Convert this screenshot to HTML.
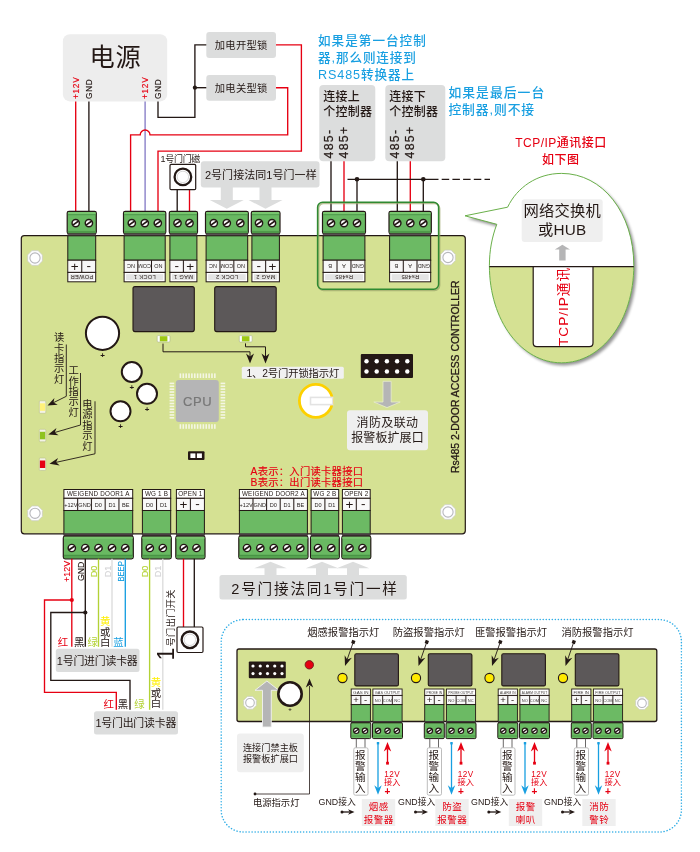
<!DOCTYPE html>
<html lang="zh"><head><meta charset="utf-8"><title>Rs485 2-DOOR ACCESS CONTROLLER</title>
<style>html,body{margin:0;padding:0;background:#fff}svg{display:block;will-change:transform}text{font-family:'Liberation Sans','Noto Sans CJK SC',sans-serif}</style>
</head><body>
<svg width="700" height="852" viewBox="0 0 700 852">
<rect width="700" height="852" fill="#fff"/>
<rect x="62.90" y="34.30" width="104.30" height="67.10" fill="#ededed" rx="7" />
<text x="115.40" y="66.30" font-size="25.2" fill="#231815" text-anchor="middle" letter-spacing="0.6" >电源</text>
<text x="75.70" y="99.00" font-size="8.3" fill="#e60012" text-anchor="start" transform="rotate(-90 75.70 99.00)" letter-spacing="0.7" dominant-baseline="central" stroke="#e60012" stroke-width="0.15">+12V</text>
<text x="88.90" y="99.00" font-size="8.3" fill="#231815" text-anchor="start" transform="rotate(-90 88.90 99.00)" letter-spacing="0.7" dominant-baseline="central" stroke="#231815" stroke-width="0.15">GND</text>
<text x="145.10" y="99.00" font-size="8.3" fill="#e60012" text-anchor="start" transform="rotate(-90 145.10 99.00)" letter-spacing="0.7" dominant-baseline="central" stroke="#e60012" stroke-width="0.15">+12V</text>
<text x="158.00" y="99.00" font-size="8.3" fill="#231815" text-anchor="start" transform="rotate(-90 158.00 99.00)" letter-spacing="0.7" dominant-baseline="central" stroke="#231815" stroke-width="0.15">GND</text>
<rect x="206.30" y="32.00" width="69.70" height="26.00" fill="#dcdddd" rx="3" />
<rect x="206.30" y="74.90" width="69.70" height="25.80" fill="#dcdddd" rx="3" />
<text x="241.20" y="48.90" font-size="10.3" fill="#231815" text-anchor="middle" letter-spacing="0.3" >加电开型锁</text>
<text x="241.20" y="91.70" font-size="10.3" fill="#231815" text-anchor="middle" letter-spacing="0.3" >加电关型锁</text>
<path d="M75.70 101.40 L75.70 211.50" fill="none" stroke="#e60012" stroke-width="1.35" />
<path d="M88.90 101.40 L88.90 211.50" fill="none" stroke="#231815" stroke-width="1.35" />
<path d="M145.10 101.40 L145.10 211.50" fill="none" stroke="#867bc6" stroke-width="1.35" />
<path d="M158.00 101.40 L158.00 117.40 L194.90 117.40 L194.90 44.90 L206.30 44.90" fill="none" stroke="#231815" stroke-width="1.35" />
<path d="M194.90 87.70 L206.30 87.70" fill="none" stroke="#231815" stroke-width="1.35" />
<circle cx="194.9" cy="87.7" r="2.1" fill="#231815"/>
<path d="M276.00 44.90 L301.40 44.90 L301.40 151.10 L158.00 151.10 L158.00 211.50" fill="none" stroke="#e60012" stroke-width="1.35" />
<path d="M276 87.7 H287.7 V134.9 H150 A4.9 4.9 0 0 0 140.2 134.9 H130.6 V211.5" fill="none" stroke="#e60012" stroke-width="1.35"/>
<text x="180.30" y="162.30" font-size="9" fill="#231815" text-anchor="middle" letter-spacing="-0.3" >1号门门磁</text>
<path d="M177.20 189.70 L177.20 211.50" fill="none" stroke="#231815" stroke-width="1.35" />
<path d="M189.50 189.70 L189.50 211.50" fill="none" stroke="#e60012" stroke-width="1.35" />
<rect x="170.00" y="164.30" width="25.70" height="25.40" fill="#fff" rx="1.2" stroke="#231815" stroke-width="1.2" />
<circle cx="182.9" cy="176.9" r="8.3" fill="#fff" stroke="#231815" stroke-width="2.3"/>
<circle cx="182.9" cy="176.9" r="5.7" fill="#fff" stroke="#c0c0c0" stroke-width="0.6"/>
<path d="M220.8 185 V200 H209.8 L226.8 208.8 L243.8 200 H232.8 V185 Z" fill="#dcdddd"/>
<path d="M259.5 185 V200 H248.5 L265.5 208.8 L282.5 200 H271.5 V185 Z" fill="#dcdddd"/>
<rect x="200.80" y="161.30" width="118.70" height="26.20" fill="#dcdddd" rx="3" />
<text x="260.80" y="179.20" font-size="11" fill="#231815" text-anchor="middle" letter-spacing="0.05" >2号门接法同1号门一样</text>
<text x="318.00" y="45.20" font-size="12.6" fill="#189fe1" text-anchor="start" letter-spacing="1.0" font-weight="500" >如果是第一台控制</text>
<text x="318.00" y="62.20" font-size="12.6" fill="#189fe1" text-anchor="start" letter-spacing="0.9" font-weight="500" >器,那么则连接到</text>
<text x="318.00" y="79.00" font-size="12.6" fill="#189fe1" text-anchor="start" letter-spacing="0.9" font-weight="500" >RS485转换器上</text>
<text x="448.40" y="96.60" font-size="12.8" fill="#189fe1" text-anchor="start" letter-spacing="1.05" font-weight="500" >如果是最后一台</text>
<text x="448.40" y="114.20" font-size="12.8" fill="#189fe1" text-anchor="start" letter-spacing="0.9" font-weight="500" >控制器,则不接</text>
<rect x="319.30" y="85.00" width="56.00" height="76.30" fill="#dcdddd" rx="4" />
<text x="323.30" y="101.40" font-size="12" fill="#231815" text-anchor="start" letter-spacing="0.2" font-weight="500" >连接上</text>
<text x="323.30" y="116.40" font-size="12" fill="#231815" text-anchor="start" letter-spacing="0.2" font-weight="500" >个控制器</text>
<text x="329.30" y="158.50" font-size="12.3" fill="#231815" text-anchor="start" transform="rotate(-90 329.30 158.50)" letter-spacing="1.3" dominant-baseline="central" stroke="#231815" stroke-width="0.25">485-</text>
<text x="343.60" y="158.50" font-size="12.3" fill="#231815" text-anchor="start" transform="rotate(-90 343.60 158.50)" letter-spacing="1.3" dominant-baseline="central" stroke="#231815" stroke-width="0.25">485+</text>
<rect x="385.30" y="85.00" width="60.00" height="76.30" fill="#dcdddd" rx="4" />
<text x="389.30" y="101.40" font-size="12" fill="#231815" text-anchor="start" letter-spacing="0.2" font-weight="500" >连接下</text>
<text x="389.30" y="116.40" font-size="12" fill="#231815" text-anchor="start" letter-spacing="0.2" font-weight="500" >个控制器</text>
<text x="395.30" y="158.50" font-size="12.3" fill="#231815" text-anchor="start" transform="rotate(-90 395.30 158.50)" letter-spacing="1.3" dominant-baseline="central" stroke="#231815" stroke-width="0.25">485-</text>
<text x="409.60" y="158.50" font-size="12.3" fill="#231815" text-anchor="start" transform="rotate(-90 409.60 158.50)" letter-spacing="1.3" dominant-baseline="central" stroke="#231815" stroke-width="0.25">485+</text>
<path d="M331.00 161.30 L331.00 211.50" fill="none" stroke="#231815" stroke-width="1.35" />
<path d="M344.00 161.30 L344.00 211.50" fill="none" stroke="#e60012" stroke-width="1.35" />
<path d="M357.00 179.30 L357.00 211.50" fill="none" stroke="#231815" stroke-width="1.35" />
<path d="M397.30 161.30 L397.30 211.50" fill="none" stroke="#231815" stroke-width="1.35" />
<path d="M410.30 161.30 L410.30 211.50" fill="none" stroke="#e60012" stroke-width="1.35" />
<path d="M423.30 179.30 L423.30 211.50" fill="none" stroke="#231815" stroke-width="1.35" />
<path d="M347.50 179.30 L431.00 179.30" fill="none" stroke="#231815" stroke-width="1.35" />
<path d="M431.00 179.30 L490.00 179.30" fill="none" stroke="#231815" stroke-width="1.2" stroke-dasharray="7.5 3.2"/>
<circle cx="357" cy="179.3" r="2.3" fill="#231815"/>
<circle cx="423.3" cy="179.3" r="2.3" fill="#231815"/>
<text x="561.00" y="147.40" font-size="12" fill="#e60012" text-anchor="middle" letter-spacing="0.5" font-weight="500" >TCP/IP通讯接口</text>
<text x="560.80" y="164.00" font-size="12" fill="#e60012" text-anchor="middle" letter-spacing="0.5" font-weight="500" >如下图</text>
<rect x="21.30" y="235.60" width="444.00" height="298.20" fill="#d5e193" rx="3" stroke="#231815" stroke-width="1.2" />
<polygon points="42.39,261.06 38.06,265.39 31.94,265.39 27.61,261.06 27.61,254.94 31.94,250.61 38.06,250.61 42.39,254.94" fill="#fdfdff" stroke="#c9ccc0" stroke-width="0.7" stroke-linejoin="round"/>
<circle cx="35" cy="258" r="5.1" fill="#fff" stroke="#b7b7bc" stroke-width="1.1"/>
<polygon points="455.39,260.56 451.06,264.89 444.94,264.89 440.61,260.56 440.61,254.44 444.94,250.11 451.06,250.11 455.39,254.44" fill="#fdfdff" stroke="#c9ccc0" stroke-width="0.7" stroke-linejoin="round"/>
<circle cx="448" cy="257.5" r="5.1" fill="#fff" stroke="#b7b7bc" stroke-width="1.1"/>
<polygon points="42.39,516.36 38.06,520.69 31.94,520.69 27.61,516.36 27.61,510.24 31.94,505.91 38.06,505.91 42.39,510.24" fill="#fdfdff" stroke="#c9ccc0" stroke-width="0.7" stroke-linejoin="round"/>
<circle cx="35" cy="513.3" r="5.1" fill="#fff" stroke="#b7b7bc" stroke-width="1.1"/>
<polygon points="455.39,515.06 451.06,519.39 444.94,519.39 440.61,515.06 440.61,508.94 444.94,504.61 451.06,504.61 455.39,508.94" fill="#fdfdff" stroke="#c9ccc0" stroke-width="0.7" stroke-linejoin="round"/>
<circle cx="448" cy="512" r="5.1" fill="#fff" stroke="#b7b7bc" stroke-width="1.1"/>
<rect x="318.6" y="203.4" width="121" height="87" rx="5" fill="none" stroke="#9aa56a" stroke-width="1.6" opacity="0.7"/>
<rect x="317.6" y="202.2" width="121" height="87" rx="5" fill="none" stroke="#2f8a32" stroke-width="1.5"/>
<rect x="67.20" y="211.30" width="29.10" height="22.60" fill="#69b962" rx="1.8" stroke="#231815" stroke-width="1.2" />
<rect x="67.80" y="211.90" width="27.90" height="2.40" fill="#79c66f" rx="1" />
<path d="M67.80 214.7 H95.70" stroke="#4a9647" stroke-width="0.9"/>
<rect x="67.80" y="230.90" width="27.90" height="2.20" fill="#4f9a4a" />
<rect x="67.50" y="233.60" width="28.50" height="2.40" fill="#5a4f54" />
<circle cx="75.70" cy="223.10" r="3.65" fill="#fff" stroke="#231815" stroke-width="1.45"/>
<path d="M72.78 225.14 L78.62 221.06" stroke="#231815" stroke-width="1.7"/>
<circle cx="88.90" cy="223.10" r="3.65" fill="#fff" stroke="#231815" stroke-width="1.45"/>
<path d="M85.98 225.14 L91.82 221.06" stroke="#231815" stroke-width="1.7"/>
<rect x="67.80" y="235.80" width="27.90" height="24.40" fill="#6cba64" stroke="#231815" stroke-width="1" />
<rect x="67.80" y="260.20" width="27.90" height="12.20" fill="#efefef" stroke="#231815" stroke-width="1" />
<rect x="68.70" y="261.10" width="12.15" height="10.40" fill="#f7f7f7" />
<text x="74.77" y="270.90" font-size="13.5" fill="#231815" text-anchor="middle" >+</text>
<rect x="82.65" y="261.10" width="12.15" height="10.40" fill="#f7f7f7" />
<path d="M81.75 260.2 V272.4" stroke="#231815" stroke-width="1"/>
<text x="88.72" y="270.00" font-size="13.5" fill="#231815" text-anchor="middle" >-</text>
<rect x="67.80" y="272.40" width="27.90" height="9.40" fill="#fff" stroke="#231815" stroke-width="1" />
<rect x="69.80" y="274.20" width="23.90" height="5.80" fill="#e4e4e4" />
<text x="81.75" y="277.10" font-size="5.7" fill="#231815" text-anchor="middle" transform="rotate(180 81.75 277.10)" letter-spacing="0.3" dominant-baseline="central">POWER</text>
<rect x="123.50" y="211.30" width="42.30" height="22.60" fill="#69b962" rx="1.8" stroke="#231815" stroke-width="1.2" />
<rect x="124.10" y="211.90" width="41.10" height="2.40" fill="#79c66f" rx="1" />
<path d="M124.10 214.7 H165.20" stroke="#4a9647" stroke-width="0.9"/>
<rect x="124.10" y="230.90" width="41.10" height="2.20" fill="#4f9a4a" />
<rect x="123.80" y="233.60" width="41.70" height="2.40" fill="#5a4f54" />
<circle cx="131.80" cy="223.10" r="3.65" fill="#fff" stroke="#231815" stroke-width="1.45"/>
<path d="M128.88 225.14 L134.72 221.06" stroke="#231815" stroke-width="1.7"/>
<circle cx="144.80" cy="223.10" r="3.65" fill="#fff" stroke="#231815" stroke-width="1.45"/>
<path d="M141.88 225.14 L147.72 221.06" stroke="#231815" stroke-width="1.7"/>
<circle cx="157.80" cy="223.10" r="3.65" fill="#fff" stroke="#231815" stroke-width="1.45"/>
<path d="M154.88 225.14 L160.72 221.06" stroke="#231815" stroke-width="1.7"/>
<rect x="124.10" y="235.80" width="41.10" height="24.40" fill="#6cba64" stroke="#231815" stroke-width="1" />
<rect x="124.10" y="260.20" width="41.10" height="12.20" fill="#efefef" stroke="#231815" stroke-width="1" />
<rect x="125.00" y="261.10" width="11.90" height="10.40" fill="#f7f7f7" />
<text x="130.95" y="266.30" font-size="5.5" fill="#2b2523" text-anchor="middle" transform="rotate(180 130.95 266.30)" dominant-baseline="central">NC</text>
<rect x="138.70" y="261.10" width="11.90" height="10.40" fill="#f7f7f7" />
<path d="M137.80 260.2 V272.4" stroke="#231815" stroke-width="1"/>
<text x="144.65" y="266.30" font-size="5.5" fill="#2b2523" text-anchor="middle" transform="rotate(180 144.65 266.30)" dominant-baseline="central">COM</text>
<rect x="152.40" y="261.10" width="11.90" height="10.40" fill="#f7f7f7" />
<path d="M151.50 260.2 V272.4" stroke="#231815" stroke-width="1"/>
<text x="158.35" y="266.30" font-size="5.5" fill="#2b2523" text-anchor="middle" transform="rotate(180 158.35 266.30)" dominant-baseline="central">NO</text>
<rect x="124.10" y="272.40" width="41.10" height="9.40" fill="#fff" stroke="#231815" stroke-width="1" />
<rect x="126.10" y="274.20" width="37.10" height="5.80" fill="#e4e4e4" />
<text x="144.65" y="277.10" font-size="5.7" fill="#231815" text-anchor="middle" transform="rotate(180 144.65 277.10)" letter-spacing="0.3" dominant-baseline="central">LOCK 1</text>
<rect x="169.30" y="211.30" width="28.20" height="22.60" fill="#69b962" rx="1.8" stroke="#231815" stroke-width="1.2" />
<rect x="169.90" y="211.90" width="27.00" height="2.40" fill="#79c66f" rx="1" />
<path d="M169.90 214.7 H196.90" stroke="#4a9647" stroke-width="0.9"/>
<rect x="169.90" y="230.90" width="27.00" height="2.20" fill="#4f9a4a" />
<rect x="169.60" y="233.60" width="27.60" height="2.40" fill="#5a4f54" />
<circle cx="177.50" cy="223.10" r="3.65" fill="#fff" stroke="#231815" stroke-width="1.45"/>
<path d="M174.58 225.14 L180.42 221.06" stroke="#231815" stroke-width="1.7"/>
<circle cx="189.50" cy="223.10" r="3.65" fill="#fff" stroke="#231815" stroke-width="1.45"/>
<path d="M186.58 225.14 L192.42 221.06" stroke="#231815" stroke-width="1.7"/>
<rect x="169.90" y="235.80" width="27.00" height="24.40" fill="#6cba64" stroke="#231815" stroke-width="1" />
<rect x="169.90" y="260.20" width="27.00" height="12.20" fill="#efefef" stroke="#231815" stroke-width="1" />
<rect x="170.80" y="261.10" width="11.70" height="10.40" fill="#f7f7f7" />
<text x="176.65" y="270.00" font-size="13.5" fill="#231815" text-anchor="middle" >-</text>
<rect x="184.30" y="261.10" width="11.70" height="10.40" fill="#f7f7f7" />
<path d="M183.40 260.2 V272.4" stroke="#231815" stroke-width="1"/>
<text x="190.15" y="270.90" font-size="13.5" fill="#231815" text-anchor="middle" >+</text>
<rect x="169.90" y="272.40" width="27.00" height="9.40" fill="#fff" stroke="#231815" stroke-width="1" />
<rect x="171.90" y="274.20" width="23.00" height="5.80" fill="#e4e4e4" />
<text x="183.40" y="277.10" font-size="5.7" fill="#231815" text-anchor="middle" transform="rotate(180 183.40 277.10)" letter-spacing="0.3" dominant-baseline="central">MAG 1</text>
<rect x="205.50" y="211.30" width="42.80" height="22.60" fill="#69b962" rx="1.8" stroke="#231815" stroke-width="1.2" />
<rect x="206.10" y="211.90" width="41.60" height="2.40" fill="#79c66f" rx="1" />
<path d="M206.10 214.7 H247.70" stroke="#4a9647" stroke-width="0.9"/>
<rect x="206.10" y="230.90" width="41.60" height="2.20" fill="#4f9a4a" />
<rect x="205.80" y="233.60" width="42.20" height="2.40" fill="#5a4f54" />
<circle cx="213.80" cy="223.10" r="3.65" fill="#fff" stroke="#231815" stroke-width="1.45"/>
<path d="M210.88 225.14 L216.72 221.06" stroke="#231815" stroke-width="1.7"/>
<circle cx="226.80" cy="223.10" r="3.65" fill="#fff" stroke="#231815" stroke-width="1.45"/>
<path d="M223.88 225.14 L229.72 221.06" stroke="#231815" stroke-width="1.7"/>
<circle cx="240.30" cy="223.10" r="3.65" fill="#fff" stroke="#231815" stroke-width="1.45"/>
<path d="M237.38 225.14 L243.22 221.06" stroke="#231815" stroke-width="1.7"/>
<rect x="206.10" y="235.80" width="41.60" height="24.40" fill="#6cba64" stroke="#231815" stroke-width="1" />
<rect x="206.10" y="260.20" width="41.60" height="12.20" fill="#efefef" stroke="#231815" stroke-width="1" />
<rect x="207.00" y="261.10" width="12.07" height="10.40" fill="#f7f7f7" />
<text x="213.03" y="266.30" font-size="5.5" fill="#2b2523" text-anchor="middle" transform="rotate(180 213.03 266.30)" dominant-baseline="central">NC</text>
<rect x="220.87" y="261.10" width="12.07" height="10.40" fill="#f7f7f7" />
<path d="M219.97 260.2 V272.4" stroke="#231815" stroke-width="1"/>
<text x="226.90" y="266.30" font-size="5.5" fill="#2b2523" text-anchor="middle" transform="rotate(180 226.90 266.30)" dominant-baseline="central">COM</text>
<rect x="234.73" y="261.10" width="12.07" height="10.40" fill="#f7f7f7" />
<path d="M233.83 260.2 V272.4" stroke="#231815" stroke-width="1"/>
<text x="240.77" y="266.30" font-size="5.5" fill="#2b2523" text-anchor="middle" transform="rotate(180 240.77 266.30)" dominant-baseline="central">NO</text>
<rect x="206.10" y="272.40" width="41.60" height="9.40" fill="#fff" stroke="#231815" stroke-width="1" />
<rect x="208.10" y="274.20" width="37.60" height="5.80" fill="#e4e4e4" />
<text x="226.90" y="277.10" font-size="5.7" fill="#231815" text-anchor="middle" transform="rotate(180 226.90 277.10)" letter-spacing="0.3" dominant-baseline="central">LOCK 2</text>
<rect x="251.30" y="211.30" width="28.70" height="22.60" fill="#69b962" rx="1.8" stroke="#231815" stroke-width="1.2" />
<rect x="251.90" y="211.90" width="27.50" height="2.40" fill="#79c66f" rx="1" />
<path d="M251.90 214.7 H279.40" stroke="#4a9647" stroke-width="0.9"/>
<rect x="251.90" y="230.90" width="27.50" height="2.20" fill="#4f9a4a" />
<rect x="251.60" y="233.60" width="28.10" height="2.40" fill="#5a4f54" />
<circle cx="259.00" cy="223.10" r="3.65" fill="#fff" stroke="#231815" stroke-width="1.45"/>
<path d="M256.08 225.14 L261.92 221.06" stroke="#231815" stroke-width="1.7"/>
<circle cx="272.00" cy="223.10" r="3.65" fill="#fff" stroke="#231815" stroke-width="1.45"/>
<path d="M269.08 225.14 L274.92 221.06" stroke="#231815" stroke-width="1.7"/>
<rect x="251.90" y="235.80" width="27.50" height="24.40" fill="#6cba64" stroke="#231815" stroke-width="1" />
<rect x="251.90" y="260.20" width="27.50" height="12.20" fill="#efefef" stroke="#231815" stroke-width="1" />
<rect x="252.80" y="261.10" width="11.95" height="10.40" fill="#f7f7f7" />
<text x="258.77" y="270.00" font-size="13.5" fill="#231815" text-anchor="middle" >-</text>
<rect x="266.55" y="261.10" width="11.95" height="10.40" fill="#f7f7f7" />
<path d="M265.65 260.2 V272.4" stroke="#231815" stroke-width="1"/>
<text x="272.52" y="270.90" font-size="13.5" fill="#231815" text-anchor="middle" >+</text>
<rect x="251.90" y="272.40" width="27.50" height="9.40" fill="#fff" stroke="#231815" stroke-width="1" />
<rect x="253.90" y="274.20" width="23.50" height="5.80" fill="#e4e4e4" />
<text x="265.65" y="277.10" font-size="5.7" fill="#231815" text-anchor="middle" transform="rotate(180 265.65 277.10)" letter-spacing="0.3" dominant-baseline="central">MAG 2</text>
<rect x="322.50" y="211.30" width="43.00" height="22.60" fill="#69b962" rx="1.8" stroke="#231815" stroke-width="1.2" />
<rect x="323.10" y="211.90" width="41.80" height="2.40" fill="#79c66f" rx="1" />
<path d="M323.10 214.7 H364.90" stroke="#4a9647" stroke-width="0.9"/>
<rect x="323.10" y="230.90" width="41.80" height="2.20" fill="#4f9a4a" />
<rect x="322.80" y="233.60" width="42.40" height="2.40" fill="#5a4f54" />
<circle cx="331.00" cy="223.10" r="3.65" fill="#fff" stroke="#231815" stroke-width="1.45"/>
<path d="M328.08 225.14 L333.92 221.06" stroke="#231815" stroke-width="1.7"/>
<circle cx="344.00" cy="223.10" r="3.65" fill="#fff" stroke="#231815" stroke-width="1.45"/>
<path d="M341.08 225.14 L346.92 221.06" stroke="#231815" stroke-width="1.7"/>
<circle cx="357.00" cy="223.10" r="3.65" fill="#fff" stroke="#231815" stroke-width="1.45"/>
<path d="M354.08 225.14 L359.92 221.06" stroke="#231815" stroke-width="1.7"/>
<rect x="323.10" y="235.80" width="41.80" height="24.40" fill="#6cba64" stroke="#231815" stroke-width="1" />
<rect x="323.10" y="260.20" width="41.80" height="12.20" fill="#efefef" stroke="#231815" stroke-width="1" />
<rect x="324.00" y="261.10" width="12.13" height="10.40" fill="#f7f7f7" />
<text x="330.07" y="266.30" font-size="5.5" fill="#2b2523" text-anchor="middle" transform="rotate(180 330.07 266.30)" dominant-baseline="central">B</text>
<rect x="337.93" y="261.10" width="12.13" height="10.40" fill="#f7f7f7" />
<path d="M337.03 260.2 V272.4" stroke="#231815" stroke-width="1"/>
<text x="344.00" y="266.30" font-size="5.5" fill="#2b2523" text-anchor="middle" transform="rotate(180 344.00 266.30)" dominant-baseline="central">A</text>
<rect x="351.87" y="261.10" width="12.13" height="10.40" fill="#f7f7f7" />
<path d="M350.97 260.2 V272.4" stroke="#231815" stroke-width="1"/>
<text x="357.93" y="266.30" font-size="5.5" fill="#2b2523" text-anchor="middle" transform="rotate(180 357.93 266.30)" dominant-baseline="central">GND</text>
<rect x="323.10" y="272.40" width="41.80" height="9.40" fill="#fff" stroke="#231815" stroke-width="1" />
<rect x="325.10" y="274.20" width="37.80" height="5.80" fill="#e4e4e4" />
<text x="344.00" y="277.10" font-size="5.7" fill="#231815" text-anchor="middle" transform="rotate(180 344.00 277.10)" letter-spacing="0.3" dominant-baseline="central">Rs485</text>
<rect x="389.00" y="211.30" width="42.30" height="22.60" fill="#69b962" rx="1.8" stroke="#231815" stroke-width="1.2" />
<rect x="389.60" y="211.90" width="41.10" height="2.40" fill="#79c66f" rx="1" />
<path d="M389.60 214.7 H430.70" stroke="#4a9647" stroke-width="0.9"/>
<rect x="389.60" y="230.90" width="41.10" height="2.20" fill="#4f9a4a" />
<rect x="389.30" y="233.60" width="41.70" height="2.40" fill="#5a4f54" />
<circle cx="397.30" cy="223.10" r="3.65" fill="#fff" stroke="#231815" stroke-width="1.45"/>
<path d="M394.38 225.14 L400.22 221.06" stroke="#231815" stroke-width="1.7"/>
<circle cx="410.30" cy="223.10" r="3.65" fill="#fff" stroke="#231815" stroke-width="1.45"/>
<path d="M407.38 225.14 L413.22 221.06" stroke="#231815" stroke-width="1.7"/>
<circle cx="423.30" cy="223.10" r="3.65" fill="#fff" stroke="#231815" stroke-width="1.45"/>
<path d="M420.38 225.14 L426.22 221.06" stroke="#231815" stroke-width="1.7"/>
<rect x="389.60" y="235.80" width="41.10" height="24.40" fill="#6cba64" stroke="#231815" stroke-width="1" />
<rect x="389.60" y="260.20" width="41.10" height="12.20" fill="#efefef" stroke="#231815" stroke-width="1" />
<rect x="390.50" y="261.10" width="11.90" height="10.40" fill="#f7f7f7" />
<text x="396.45" y="266.30" font-size="5.5" fill="#2b2523" text-anchor="middle" transform="rotate(180 396.45 266.30)" dominant-baseline="central">B</text>
<rect x="404.20" y="261.10" width="11.90" height="10.40" fill="#f7f7f7" />
<path d="M403.30 260.2 V272.4" stroke="#231815" stroke-width="1"/>
<text x="410.15" y="266.30" font-size="5.5" fill="#2b2523" text-anchor="middle" transform="rotate(180 410.15 266.30)" dominant-baseline="central">A</text>
<rect x="417.90" y="261.10" width="11.90" height="10.40" fill="#f7f7f7" />
<path d="M417.00 260.2 V272.4" stroke="#231815" stroke-width="1"/>
<text x="423.85" y="266.30" font-size="5.5" fill="#2b2523" text-anchor="middle" transform="rotate(180 423.85 266.30)" dominant-baseline="central">GND</text>
<rect x="389.60" y="272.40" width="41.10" height="9.40" fill="#fff" stroke="#231815" stroke-width="1" />
<rect x="391.60" y="274.20" width="37.10" height="5.80" fill="#e4e4e4" />
<text x="410.15" y="277.10" font-size="5.7" fill="#231815" text-anchor="middle" transform="rotate(180 410.15 277.10)" letter-spacing="0.3" dominant-baseline="central">Rs485</text>
<rect x="133.00" y="286.60" width="61.30" height="45.00" fill="#5c5859" rx="2" stroke="#231815" stroke-width="1.1" />
<rect x="214.70" y="286.60" width="61.50" height="45.00" fill="#5c5859" rx="2" stroke="#231815" stroke-width="1.1" />
<rect x="157.20" y="335.60" width="12.80" height="6.40" fill="#fff" rx="1" stroke="#a9b48a" stroke-width="0.6" />
<rect x="159.80" y="336.20" width="7.60" height="5.20" fill="#9dc814" />
<rect x="239.30" y="335.60" width="12.80" height="6.40" fill="#fff" rx="1" stroke="#a9b48a" stroke-width="0.6" />
<rect x="241.90" y="336.20" width="7.60" height="5.20" fill="#9dc814" />
<path d="M163.00 343.60 L163.00 351.80 L250.00 351.80 L250.00 358.00" fill="none" stroke="#231815" stroke-width="1" />
<path d="M245.50 343.40 L245.50 346.80 L265.50 346.80 L265.50 358.00" fill="none" stroke="#231815" stroke-width="1" />
<path d="M0 0 L-10 -4.0 L-7.0 0 L-10 4.0 Z" fill="#231815" transform="translate(250.00 363.60) rotate(90)"/>
<path d="M0 0 L-10 -4.0 L-7.0 0 L-10 4.0 Z" fill="#231815" transform="translate(265.50 363.60) rotate(90)"/>
<rect x="241.80" y="366.80" width="102.00" height="12.00" fill="#f1f1f1" rx="1.5" />
<text x="292.80" y="377.00" font-size="10.3" fill="#231815" text-anchor="middle" letter-spacing="-0.1" >1、2号门开锁指示灯</text>
<circle cx="102.5" cy="333.3" r="16.6" fill="#fff" stroke="#231815" stroke-width="2"/>
<text x="102.50" y="357.90" font-size="8" fill="#231815" text-anchor="middle" font-weight="bold" >+</text>
<circle cx="131.8" cy="372" r="10" fill="#fff" stroke="#231815" stroke-width="2"/>
<text x="131.80" y="390.00" font-size="8" fill="#231815" text-anchor="middle" font-weight="bold" >+</text>
<circle cx="147" cy="393.8" r="10" fill="#fff" stroke="#231815" stroke-width="2"/>
<text x="147.00" y="411.80" font-size="8" fill="#231815" text-anchor="middle" font-weight="bold" >+</text>
<circle cx="120.5" cy="411.3" r="10" fill="#fff" stroke="#231815" stroke-width="2"/>
<text x="120.50" y="429.30" font-size="8" fill="#231815" text-anchor="middle" font-weight="bold" >+</text>
<text x="58.20" y="332.14" font-size="10.3" fill="#231815" letter-spacing="0.10" style="writing-mode:vertical-rl;text-orientation:upright">读卡指示灯</text>
<text x="72.70" y="365.14" font-size="10.3" fill="#231815" letter-spacing="0.10" style="writing-mode:vertical-rl;text-orientation:upright">工作指示灯</text>
<text x="86.40" y="398.94" font-size="10.3" fill="#231815" letter-spacing="0.10" style="writing-mode:vertical-rl;text-orientation:upright">电源指示灯</text>
<path d="M66.30 344.50 L66.30 396.30 L52.00 403.40" fill="none" stroke="#231815" stroke-width="0.9" />
<path d="M80.50 373.00 L80.50 425.00 L53.00 433.00" fill="none" stroke="#231815" stroke-width="0.9" />
<path d="M95.00 401.30 L95.00 453.80 L54.00 462.80" fill="none" stroke="#231815" stroke-width="0.9" />
<path d="M0 0 L-9.6 -3.8 L-6.72 0 L-9.6 3.8 Z" fill="#231815" transform="translate(47.50 405.60) rotate(153.5)"/>
<path d="M0 0 L-9.6 -3.8 L-6.72 0 L-9.6 3.8 Z" fill="#231815" transform="translate(48.30 434.40) rotate(163.8)"/>
<path d="M0 0 L-9.6 -3.8 L-6.72 0 L-9.6 3.8 Z" fill="#231815" transform="translate(49.50 463.80) rotate(167.6)"/>
<rect x="39.30" y="400.80" width="6.50" height="12.50" fill="#f3f3e6" rx="1" stroke="#b9c08c" stroke-width="0.6" />
<rect x="39.90" y="403.30" width="5.30" height="7.50" fill="#fff27a" />
<rect x="39.30" y="429.30" width="6.50" height="12.50" fill="#f3f3e6" rx="1" stroke="#b9c08c" stroke-width="0.6" />
<rect x="39.90" y="431.80" width="5.30" height="7.50" fill="#8fc31f" />
<rect x="39.30" y="458.00" width="6.50" height="12.50" fill="#f3f3e6" rx="1" stroke="#b9c08c" stroke-width="0.6" />
<rect x="39.90" y="460.50" width="5.30" height="7.50" fill="#e60012" />
<rect x="179.60" y="373.40" width="1.60" height="4.60" fill="#f4f6e4" />
<rect x="179.60" y="424.20" width="1.60" height="4.60" fill="#f4f6e4" />
<rect x="169.60" y="382.60" width="4.60" height="1.60" fill="#f4f6e4" />
<rect x="220.60" y="382.60" width="4.60" height="1.60" fill="#f4f6e4" />
<rect x="182.47" y="373.40" width="1.60" height="4.60" fill="#f4f6e4" />
<rect x="182.47" y="424.20" width="1.60" height="4.60" fill="#f4f6e4" />
<rect x="169.60" y="385.47" width="4.60" height="1.60" fill="#f4f6e4" />
<rect x="220.60" y="385.47" width="4.60" height="1.60" fill="#f4f6e4" />
<rect x="185.34" y="373.40" width="1.60" height="4.60" fill="#f4f6e4" />
<rect x="185.34" y="424.20" width="1.60" height="4.60" fill="#f4f6e4" />
<rect x="169.60" y="388.34" width="4.60" height="1.60" fill="#f4f6e4" />
<rect x="220.60" y="388.34" width="4.60" height="1.60" fill="#f4f6e4" />
<rect x="188.21" y="373.40" width="1.60" height="4.60" fill="#f4f6e4" />
<rect x="188.21" y="424.20" width="1.60" height="4.60" fill="#f4f6e4" />
<rect x="169.60" y="391.21" width="4.60" height="1.60" fill="#f4f6e4" />
<rect x="220.60" y="391.21" width="4.60" height="1.60" fill="#f4f6e4" />
<rect x="191.08" y="373.40" width="1.60" height="4.60" fill="#f4f6e4" />
<rect x="191.08" y="424.20" width="1.60" height="4.60" fill="#f4f6e4" />
<rect x="169.60" y="394.08" width="4.60" height="1.60" fill="#f4f6e4" />
<rect x="220.60" y="394.08" width="4.60" height="1.60" fill="#f4f6e4" />
<rect x="193.95" y="373.40" width="1.60" height="4.60" fill="#f4f6e4" />
<rect x="193.95" y="424.20" width="1.60" height="4.60" fill="#f4f6e4" />
<rect x="169.60" y="396.95" width="4.60" height="1.60" fill="#f4f6e4" />
<rect x="220.60" y="396.95" width="4.60" height="1.60" fill="#f4f6e4" />
<rect x="196.82" y="373.40" width="1.60" height="4.60" fill="#f4f6e4" />
<rect x="196.82" y="424.20" width="1.60" height="4.60" fill="#f4f6e4" />
<rect x="169.60" y="399.82" width="4.60" height="1.60" fill="#f4f6e4" />
<rect x="220.60" y="399.82" width="4.60" height="1.60" fill="#f4f6e4" />
<rect x="199.69" y="373.40" width="1.60" height="4.60" fill="#f4f6e4" />
<rect x="199.69" y="424.20" width="1.60" height="4.60" fill="#f4f6e4" />
<rect x="169.60" y="402.69" width="4.60" height="1.60" fill="#f4f6e4" />
<rect x="220.60" y="402.69" width="4.60" height="1.60" fill="#f4f6e4" />
<rect x="202.56" y="373.40" width="1.60" height="4.60" fill="#f4f6e4" />
<rect x="202.56" y="424.20" width="1.60" height="4.60" fill="#f4f6e4" />
<rect x="169.60" y="405.56" width="4.60" height="1.60" fill="#f4f6e4" />
<rect x="220.60" y="405.56" width="4.60" height="1.60" fill="#f4f6e4" />
<rect x="205.43" y="373.40" width="1.60" height="4.60" fill="#f4f6e4" />
<rect x="205.43" y="424.20" width="1.60" height="4.60" fill="#f4f6e4" />
<rect x="169.60" y="408.43" width="4.60" height="1.60" fill="#f4f6e4" />
<rect x="220.60" y="408.43" width="4.60" height="1.60" fill="#f4f6e4" />
<rect x="208.30" y="373.40" width="1.60" height="4.60" fill="#f4f6e4" />
<rect x="208.30" y="424.20" width="1.60" height="4.60" fill="#f4f6e4" />
<rect x="169.60" y="411.30" width="4.60" height="1.60" fill="#f4f6e4" />
<rect x="220.60" y="411.30" width="4.60" height="1.60" fill="#f4f6e4" />
<rect x="211.17" y="373.40" width="1.60" height="4.60" fill="#f4f6e4" />
<rect x="211.17" y="424.20" width="1.60" height="4.60" fill="#f4f6e4" />
<rect x="169.60" y="414.17" width="4.60" height="1.60" fill="#f4f6e4" />
<rect x="220.60" y="414.17" width="4.60" height="1.60" fill="#f4f6e4" />
<rect x="214.04" y="373.40" width="1.60" height="4.60" fill="#f4f6e4" />
<rect x="214.04" y="424.20" width="1.60" height="4.60" fill="#f4f6e4" />
<rect x="169.60" y="417.04" width="4.60" height="1.60" fill="#f4f6e4" />
<rect x="220.60" y="417.04" width="4.60" height="1.60" fill="#f4f6e4" />
<rect x="175.80" y="380.00" width="43.00" height="42.00" fill="#b5b5b6" rx="3" />
<text x="197.70" y="405.80" font-size="13" fill="#777" text-anchor="middle" letter-spacing="0.6" stroke="#777" stroke-width="0.2">CPU</text>
<rect x="188.00" y="451.30" width="16.50" height="8.80" fill="#231815" rx="1" />
<rect x="190.40" y="453.40" width="5.00" height="4.60" fill="#fff" />
<rect x="196.90" y="453.40" width="5.00" height="4.60" fill="#fff" />
<circle cx="315.9" cy="400.8" r="16.5" fill="#fff" stroke="#fdd000" stroke-width="2.8"/>
<rect x="310.50" y="397.40" width="22.20" height="7.20" fill="#fff" stroke="#e3e3e3" stroke-width="1.6" />
<rect x="360.80" y="354.00" width="52.20" height="24.00" fill="#231815" rx="1" />
<circle cx="366.5" cy="361.3" r="2.2" fill="#fff"/>
<circle cx="366.5" cy="371.5" r="2.2" fill="#fff"/>
<circle cx="376.7" cy="361.3" r="2.2" fill="#fff"/>
<circle cx="376.7" cy="371.5" r="2.2" fill="#fff"/>
<circle cx="386.9" cy="361.3" r="2.2" fill="#fff"/>
<circle cx="386.9" cy="371.5" r="2.2" fill="#fff"/>
<circle cx="397.1" cy="361.3" r="2.2" fill="#fff"/>
<circle cx="397.1" cy="371.5" r="2.2" fill="#fff"/>
<circle cx="407.3" cy="361.3" r="2.2" fill="#fff"/>
<circle cx="407.3" cy="371.5" r="2.2" fill="#fff"/>
<path d="M383 381.3 V402 H373.8 L387 407.6 L400.2 402 H391.2 V381.3 Z" fill="#b5b5b6" stroke="#e9eecb" stroke-width="0.8"/>
<rect x="347.00" y="410.30" width="81.00" height="40.00" fill="#efefef" rx="3" />
<text x="387.50" y="427.30" font-size="12" fill="#231815" text-anchor="middle" letter-spacing="0.4" >消防及联动</text>
<text x="387.50" y="441.80" font-size="12" fill="#231815" text-anchor="middle" letter-spacing="0.1" >报警板扩展口</text>
<text x="455.40" y="473.00" font-size="10.8" fill="#231815" text-anchor="start" transform="rotate(-90 455.40 473.00)" dominant-baseline="central" textLength="192.5" lengthAdjust="spacingAndGlyphs" stroke="#231815" stroke-width="0.3">Rs485 2-DOOR ACCESS CONTROLLER</text>
<text x="250.50" y="474.60" font-size="10.3" fill="#e60012" text-anchor="start" letter-spacing="0.27" stroke="#e60012" stroke-width="0.15">A表示：入门读卡器接口</text>
<text x="250.50" y="485.80" font-size="10.3" fill="#e60012" text-anchor="start" letter-spacing="0.27" stroke="#e60012" stroke-width="0.15">B表示：出门读卡器接口</text>
<rect x="63.90" y="489.50" width="68.80" height="8.80" fill="#fff" stroke="#231815" stroke-width="1" />
<text x="98.30" y="496.30" font-size="6.3" fill="#231815" text-anchor="middle" letter-spacing="0.2" >WEIGEND DOOR1  A</text>
<rect x="63.90" y="498.30" width="68.80" height="12.20" fill="#efefef" stroke="#231815" stroke-width="1" />
<rect x="64.80" y="499.20" width="11.96" height="10.40" fill="#f9f9f9" />
<text x="70.78" y="506.50" font-size="5.6" fill="#2b2523" text-anchor="middle" >+12V</text>
<rect x="78.56" y="499.20" width="11.96" height="10.40" fill="#f9f9f9" />
<path d="M77.66 498.3 V510.5" stroke="#231815" stroke-width="1"/>
<text x="84.54" y="506.50" font-size="5.6" fill="#2b2523" text-anchor="middle" >GND</text>
<rect x="92.32" y="499.20" width="11.96" height="10.40" fill="#f9f9f9" />
<path d="M91.42 498.3 V510.5" stroke="#231815" stroke-width="1"/>
<text x="98.30" y="506.50" font-size="5.6" fill="#2b2523" text-anchor="middle" >D0</text>
<rect x="106.08" y="499.20" width="11.96" height="10.40" fill="#f9f9f9" />
<path d="M105.18 498.3 V510.5" stroke="#231815" stroke-width="1"/>
<text x="112.06" y="506.50" font-size="5.6" fill="#2b2523" text-anchor="middle" >D1</text>
<rect x="119.84" y="499.20" width="11.96" height="10.40" fill="#f9f9f9" />
<path d="M118.94 498.3 V510.5" stroke="#231815" stroke-width="1"/>
<text x="125.82" y="506.50" font-size="5.6" fill="#2b2523" text-anchor="middle" >BE</text>
<rect x="63.90" y="510.50" width="68.80" height="23.60" fill="#6cba64" stroke="#231815" stroke-width="1" />
<rect x="63.60" y="533.40" width="69.40" height="2.60" fill="#4a3f44" />
<rect x="63.30" y="536.20" width="70.00" height="22.60" fill="#69b962" rx="1.8" stroke="#231815" stroke-width="1.2" />
<rect x="63.90" y="536.80" width="68.80" height="2.00" fill="#79c66f" />
<rect x="63.90" y="555.60" width="68.80" height="2.60" fill="#56a350" rx="1" />
<path d="M63.90 555.3 H132.70" stroke="#3f8a3d" stroke-width="0.9"/>
<circle cx="71.80" cy="548.00" r="3.65" fill="#fff" stroke="#231815" stroke-width="1.45"/>
<path d="M68.88 550.04 L74.72 545.96" stroke="#231815" stroke-width="1.7"/>
<circle cx="85.30" cy="548.00" r="3.65" fill="#fff" stroke="#231815" stroke-width="1.45"/>
<path d="M82.38 550.04 L88.22 545.96" stroke="#231815" stroke-width="1.7"/>
<circle cx="98.50" cy="548.00" r="3.65" fill="#fff" stroke="#231815" stroke-width="1.45"/>
<path d="M95.58 550.04 L101.42 545.96" stroke="#231815" stroke-width="1.7"/>
<circle cx="112.00" cy="548.00" r="3.65" fill="#fff" stroke="#231815" stroke-width="1.45"/>
<path d="M109.08 550.04 L114.92 545.96" stroke="#231815" stroke-width="1.7"/>
<circle cx="125.30" cy="548.00" r="3.65" fill="#fff" stroke="#231815" stroke-width="1.45"/>
<path d="M122.38 550.04 L128.22 545.96" stroke="#231815" stroke-width="1.7"/>
<rect x="142.40" y="489.50" width="28.30" height="8.80" fill="#fff" stroke="#231815" stroke-width="1" />
<text x="156.55" y="496.30" font-size="6.3" fill="#231815" text-anchor="middle" letter-spacing="0.2" >WG 1 B</text>
<rect x="142.40" y="498.30" width="28.30" height="12.20" fill="#efefef" stroke="#231815" stroke-width="1" />
<rect x="143.30" y="499.20" width="12.35" height="10.40" fill="#f9f9f9" />
<text x="149.47" y="506.50" font-size="5.6" fill="#2b2523" text-anchor="middle" >D0</text>
<rect x="157.45" y="499.20" width="12.35" height="10.40" fill="#f9f9f9" />
<path d="M156.55 498.3 V510.5" stroke="#231815" stroke-width="1"/>
<text x="163.62" y="506.50" font-size="5.6" fill="#2b2523" text-anchor="middle" >D1</text>
<rect x="142.40" y="510.50" width="28.30" height="23.60" fill="#6cba64" stroke="#231815" stroke-width="1" />
<rect x="142.10" y="533.40" width="28.90" height="2.60" fill="#4a3f44" />
<rect x="141.80" y="536.20" width="29.50" height="22.60" fill="#69b962" rx="1.8" stroke="#231815" stroke-width="1.2" />
<rect x="142.40" y="536.80" width="28.30" height="2.00" fill="#79c66f" />
<rect x="142.40" y="555.60" width="28.30" height="2.60" fill="#56a350" rx="1" />
<path d="M142.40 555.3 H170.70" stroke="#3f8a3d" stroke-width="0.9"/>
<circle cx="149.80" cy="548.00" r="3.65" fill="#fff" stroke="#231815" stroke-width="1.45"/>
<path d="M146.88 550.04 L152.72 545.96" stroke="#231815" stroke-width="1.7"/>
<circle cx="162.80" cy="548.00" r="3.65" fill="#fff" stroke="#231815" stroke-width="1.45"/>
<path d="M159.88 550.04 L165.72 545.96" stroke="#231815" stroke-width="1.7"/>
<rect x="176.40" y="489.50" width="28.00" height="8.80" fill="#fff" stroke="#231815" stroke-width="1" />
<text x="190.40" y="496.30" font-size="6.3" fill="#231815" text-anchor="middle" letter-spacing="0.2" >OPEN 1</text>
<rect x="176.40" y="498.30" width="28.00" height="12.20" fill="#efefef" stroke="#231815" stroke-width="1" />
<rect x="177.30" y="499.20" width="12.20" height="10.40" fill="#f9f9f9" />
<text x="183.40" y="509.00" font-size="13.5" fill="#231815" text-anchor="middle" >+</text>
<rect x="191.30" y="499.20" width="12.20" height="10.40" fill="#f9f9f9" />
<path d="M190.40 498.3 V510.5" stroke="#231815" stroke-width="1"/>
<text x="197.40" y="508.10" font-size="13.5" fill="#231815" text-anchor="middle" >-</text>
<rect x="176.40" y="510.50" width="28.00" height="23.60" fill="#6cba64" stroke="#231815" stroke-width="1" />
<rect x="176.10" y="533.40" width="28.60" height="2.60" fill="#4a3f44" />
<rect x="175.80" y="536.20" width="29.20" height="22.60" fill="#69b962" rx="1.8" stroke="#231815" stroke-width="1.2" />
<rect x="176.40" y="536.80" width="28.00" height="2.00" fill="#79c66f" />
<rect x="176.40" y="555.60" width="28.00" height="2.60" fill="#56a350" rx="1" />
<path d="M176.40 555.3 H204.40" stroke="#3f8a3d" stroke-width="0.9"/>
<circle cx="183.80" cy="548.00" r="3.65" fill="#fff" stroke="#231815" stroke-width="1.45"/>
<path d="M180.88 550.04 L186.72 545.96" stroke="#231815" stroke-width="1.7"/>
<circle cx="196.50" cy="548.00" r="3.65" fill="#fff" stroke="#231815" stroke-width="1.45"/>
<path d="M193.58 550.04 L199.42 545.96" stroke="#231815" stroke-width="1.7"/>
<rect x="239.40" y="489.50" width="68.00" height="8.80" fill="#fff" stroke="#231815" stroke-width="1" />
<text x="273.40" y="496.30" font-size="6.3" fill="#231815" text-anchor="middle" letter-spacing="0.2" >WEIGEND DOOR2  A</text>
<rect x="239.40" y="498.30" width="68.00" height="12.20" fill="#efefef" stroke="#231815" stroke-width="1" />
<rect x="240.30" y="499.20" width="11.80" height="10.40" fill="#f9f9f9" />
<text x="246.20" y="506.50" font-size="5.6" fill="#2b2523" text-anchor="middle" >+12V</text>
<rect x="253.90" y="499.20" width="11.80" height="10.40" fill="#f9f9f9" />
<path d="M253.00 498.3 V510.5" stroke="#231815" stroke-width="1"/>
<text x="259.80" y="506.50" font-size="5.6" fill="#2b2523" text-anchor="middle" >GND</text>
<rect x="267.50" y="499.20" width="11.80" height="10.40" fill="#f9f9f9" />
<path d="M266.60 498.3 V510.5" stroke="#231815" stroke-width="1"/>
<text x="273.40" y="506.50" font-size="5.6" fill="#2b2523" text-anchor="middle" >D0</text>
<rect x="281.10" y="499.20" width="11.80" height="10.40" fill="#f9f9f9" />
<path d="M280.20 498.3 V510.5" stroke="#231815" stroke-width="1"/>
<text x="287.00" y="506.50" font-size="5.6" fill="#2b2523" text-anchor="middle" >D1</text>
<rect x="294.70" y="499.20" width="11.80" height="10.40" fill="#f9f9f9" />
<path d="M293.80 498.3 V510.5" stroke="#231815" stroke-width="1"/>
<text x="300.60" y="506.50" font-size="5.6" fill="#2b2523" text-anchor="middle" >BE</text>
<rect x="239.40" y="510.50" width="68.00" height="23.60" fill="#6cba64" stroke="#231815" stroke-width="1" />
<rect x="239.10" y="533.40" width="68.60" height="2.60" fill="#4a3f44" />
<rect x="238.80" y="536.20" width="69.20" height="22.60" fill="#69b962" rx="1.8" stroke="#231815" stroke-width="1.2" />
<rect x="239.40" y="536.80" width="68.00" height="2.00" fill="#79c66f" />
<rect x="239.40" y="555.60" width="68.00" height="2.60" fill="#56a350" rx="1" />
<path d="M239.40 555.3 H307.40" stroke="#3f8a3d" stroke-width="0.9"/>
<circle cx="247.00" cy="548.00" r="3.65" fill="#fff" stroke="#231815" stroke-width="1.45"/>
<path d="M244.08 550.04 L249.92 545.96" stroke="#231815" stroke-width="1.7"/>
<circle cx="260.30" cy="548.00" r="3.65" fill="#fff" stroke="#231815" stroke-width="1.45"/>
<path d="M257.38 550.04 L263.22 545.96" stroke="#231815" stroke-width="1.7"/>
<circle cx="273.80" cy="548.00" r="3.65" fill="#fff" stroke="#231815" stroke-width="1.45"/>
<path d="M270.88 550.04 L276.72 545.96" stroke="#231815" stroke-width="1.7"/>
<circle cx="287.00" cy="548.00" r="3.65" fill="#fff" stroke="#231815" stroke-width="1.45"/>
<path d="M284.08 550.04 L289.92 545.96" stroke="#231815" stroke-width="1.7"/>
<circle cx="300.30" cy="548.00" r="3.65" fill="#fff" stroke="#231815" stroke-width="1.45"/>
<path d="M297.38 550.04 L303.22 545.96" stroke="#231815" stroke-width="1.7"/>
<rect x="311.10" y="489.50" width="27.60" height="8.80" fill="#fff" stroke="#231815" stroke-width="1" />
<text x="324.90" y="496.30" font-size="6.3" fill="#231815" text-anchor="middle" letter-spacing="0.2" >WG 2 B</text>
<rect x="311.10" y="498.30" width="27.60" height="12.20" fill="#efefef" stroke="#231815" stroke-width="1" />
<rect x="312.00" y="499.20" width="12.00" height="10.40" fill="#f9f9f9" />
<text x="318.00" y="506.50" font-size="5.6" fill="#2b2523" text-anchor="middle" >D0</text>
<rect x="325.80" y="499.20" width="12.00" height="10.40" fill="#f9f9f9" />
<path d="M324.90 498.3 V510.5" stroke="#231815" stroke-width="1"/>
<text x="331.80" y="506.50" font-size="5.6" fill="#2b2523" text-anchor="middle" >D1</text>
<rect x="311.10" y="510.50" width="27.60" height="23.60" fill="#6cba64" stroke="#231815" stroke-width="1" />
<rect x="310.80" y="533.40" width="28.20" height="2.60" fill="#4a3f44" />
<rect x="310.50" y="536.20" width="28.80" height="22.60" fill="#69b962" rx="1.8" stroke="#231815" stroke-width="1.2" />
<rect x="311.10" y="536.80" width="27.60" height="2.00" fill="#79c66f" />
<rect x="311.10" y="555.60" width="27.60" height="2.60" fill="#56a350" rx="1" />
<path d="M311.10 555.3 H338.70" stroke="#3f8a3d" stroke-width="0.9"/>
<circle cx="318.00" cy="548.00" r="3.65" fill="#fff" stroke="#231815" stroke-width="1.45"/>
<path d="M315.08 550.04 L320.92 545.96" stroke="#231815" stroke-width="1.7"/>
<circle cx="331.30" cy="548.00" r="3.65" fill="#fff" stroke="#231815" stroke-width="1.45"/>
<path d="M328.38 550.04 L334.22 545.96" stroke="#231815" stroke-width="1.7"/>
<rect x="342.40" y="489.50" width="27.80" height="8.80" fill="#fff" stroke="#231815" stroke-width="1" />
<text x="356.30" y="496.30" font-size="6.3" fill="#231815" text-anchor="middle" letter-spacing="0.2" >OPEN 2</text>
<rect x="342.40" y="498.30" width="27.80" height="12.20" fill="#efefef" stroke="#231815" stroke-width="1" />
<rect x="343.30" y="499.20" width="12.10" height="10.40" fill="#f9f9f9" />
<text x="349.35" y="509.00" font-size="13.5" fill="#231815" text-anchor="middle" >+</text>
<rect x="357.20" y="499.20" width="12.10" height="10.40" fill="#f9f9f9" />
<path d="M356.30 498.3 V510.5" stroke="#231815" stroke-width="1"/>
<text x="363.25" y="508.10" font-size="13.5" fill="#231815" text-anchor="middle" >-</text>
<rect x="342.40" y="510.50" width="27.80" height="23.60" fill="#6cba64" stroke="#231815" stroke-width="1" />
<rect x="342.10" y="533.40" width="28.40" height="2.60" fill="#4a3f44" />
<rect x="341.80" y="536.20" width="29.00" height="22.60" fill="#69b962" rx="1.8" stroke="#231815" stroke-width="1.2" />
<rect x="342.40" y="536.80" width="27.80" height="2.00" fill="#79c66f" />
<rect x="342.40" y="555.60" width="27.80" height="2.60" fill="#56a350" rx="1" />
<path d="M342.40 555.3 H370.20" stroke="#3f8a3d" stroke-width="0.9"/>
<circle cx="349.50" cy="548.00" r="3.65" fill="#fff" stroke="#231815" stroke-width="1.45"/>
<path d="M346.58 550.04 L352.42 545.96" stroke="#231815" stroke-width="1.7"/>
<circle cx="362.50" cy="548.00" r="3.65" fill="#fff" stroke="#231815" stroke-width="1.45"/>
<path d="M359.58 550.04 L365.42 545.96" stroke="#231815" stroke-width="1.7"/>
<defs><clipPath id="egg"><path id="eggp" d="M507.6 207.2 C517 187.5 537 173.4 561.5 173.4 C602.5 173.4 633.8 213 633.8 265.5 C633.8 321 601.5 362.8 561.5 362.8 C521.5 362.8 489.4 321 489.4 265.5 C489.4 250.5 492 237 496.8 224.3 L465 215.8 Z"/></clipPath><filter id="sh" x="-20%" y="-20%" width="140%" height="140%"><feGaussianBlur stdDeviation="1.6"/></filter></defs>
<path d="M507.6 207.2 C517 187.5 537 173.4 561.5 173.4 C602.5 173.4 633.8 213 633.8 265.5 C633.8 321 601.5 362.8 561.5 362.8 C521.5 362.8 489.4 321 489.4 265.5 C489.4 250.5 492 237 496.8 224.3 L465 215.8 Z" fill="#000" opacity="0.42" filter="url(#sh)" transform="translate(2.6 2.6)"/>
<path d="M507.6 207.2 C517 187.5 537 173.4 561.5 173.4 C602.5 173.4 633.8 213 633.8 265.5 C633.8 321 601.5 362.8 561.5 362.8 C521.5 362.8 489.4 321 489.4 265.5 C489.4 250.5 492 237 496.8 224.3 L465 215.8 Z" fill="#fff"/>
<rect x="480" y="266.6" width="160" height="110" fill="#d5e193" clip-path="url(#egg)"/>
<path d="M507.6 207.2 C517 187.5 537 173.4 561.5 173.4 C602.5 173.4 633.8 213 633.8 265.5 C633.8 321 601.5 362.8 561.5 362.8 C521.5 362.8 489.4 321 489.4 265.5 C489.4 250.5 492 237 496.8 224.3 L465 215.8 Z" fill="none" stroke="#6ab04a" stroke-width="1"/>
<path d="M533.2 266.6 V343 Q533.2 346.6 536.8 346.6 H589.4 Q593 346.6 593 343 V266.6" fill="#fff" stroke="#231815" stroke-width="1.2"/>
<path d="M489.4 266.6 H633.8" stroke="#231815" stroke-width="1.4"/>
<rect x="521.70" y="199.30" width="81.00" height="42.70" fill="#efefef" rx="3" />
<text x="562.20" y="216.20" font-size="15.3" fill="#231815" text-anchor="middle" letter-spacing="0.2" >网络交换机</text>
<text x="562.20" y="235.40" font-size="15.3" fill="#231815" text-anchor="middle" letter-spacing="0.2" >或HUB</text>
<path d="M559.2 260.6 V249.4 H554.8 L562.4 244.8 L570 249.4 H565.6 V260.6 Z" fill="#b5b5b6"/>
<text x="563.60" y="346.00" font-size="13.7" fill="#e60012" text-anchor="start" transform="rotate(-90 563.60 346.00)" letter-spacing="0.95" dominant-baseline="central">TCP/IP通讯</text>
<path d="M71.80 558.80 L71.80 646.80" fill="none" stroke="#e60012" stroke-width="1.35" />
<path d="M85.30 558.80 L85.30 646.80" fill="none" stroke="#231815" stroke-width="1.35" />
<path d="M98.50 558.80 L98.50 646.80" fill="none" stroke="#b3d235" stroke-width="1.35" />
<path d="M112.00 558.80 L112.00 646.80" fill="none" stroke="#dcdcdc" stroke-width="1.35" />
<path d="M125.30 558.80 L125.30 646.80" fill="none" stroke="#189fe1" stroke-width="1.35" />
<text x="67.50" y="571.40" font-size="9" fill="#e60012" text-anchor="middle" transform="rotate(-90 67.50 571.40)" dominant-baseline="central" textLength="21.2" lengthAdjust="spacingAndGlyphs" stroke="#e60012" stroke-width="0.12">+12V</text>
<text x="81.30" y="571.40" font-size="9" fill="#231815" text-anchor="middle" transform="rotate(-90 81.30 571.40)" dominant-baseline="central" textLength="19.4" lengthAdjust="spacingAndGlyphs" stroke="#231815" stroke-width="0.12">GND</text>
<text x="94.50" y="571.40" font-size="9" fill="#b3d235" text-anchor="middle" transform="rotate(-90 94.50 571.40)" dominant-baseline="central" textLength="11.8" lengthAdjust="spacingAndGlyphs" stroke="#b3d235" stroke-width="0.12">D0</text>
<text x="108.00" y="571.40" font-size="9" fill="#d3d3d4" text-anchor="middle" transform="rotate(-90 108.00 571.40)" dominant-baseline="central" textLength="11.6" lengthAdjust="spacingAndGlyphs" stroke="#d3d3d4" stroke-width="0.12">D1</text>
<text x="120.80" y="571.40" font-size="9" fill="#189fe1" text-anchor="middle" transform="rotate(-90 120.80 571.40)" dominant-baseline="central" textLength="20.2" lengthAdjust="spacingAndGlyphs" stroke="#189fe1" stroke-width="0.12">BEEP</text>
<path d="M149.60 558.80 L149.60 709.80" fill="none" stroke="#b3d235" stroke-width="1.35" />
<path d="M162.80 558.80 L162.80 709.80" fill="none" stroke="#dcdcdc" stroke-width="1.35" />
<text x="144.60" y="571.40" font-size="9" fill="#b3d235" text-anchor="middle" transform="rotate(-90 144.60 571.40)" dominant-baseline="central" textLength="11.8" lengthAdjust="spacingAndGlyphs" stroke="#b3d235" stroke-width="0.12">D0</text>
<text x="158.00" y="571.40" font-size="9" fill="#d3d3d4" text-anchor="middle" transform="rotate(-90 158.00 571.40)" dominant-baseline="central" textLength="11.6" lengthAdjust="spacingAndGlyphs" stroke="#d3d3d4" stroke-width="0.12">D1</text>
<path d="M71.80 600.00 L44.50 600.00 L44.50 692.30 L116.30 692.30 L116.30 709.80" fill="none" stroke="#e60012" stroke-width="1.35" />
<path d="M85.30 612.50 L50.80 612.50 L50.80 680.30 L130.00 680.30 L130.00 709.80" fill="none" stroke="#231815" stroke-width="1.35" />
<circle cx="71.8" cy="600" r="2.1" fill="#e60012"/>
<circle cx="85.3" cy="612.5" r="2.1" fill="#231815"/>
<text x="63.00" y="645.80" font-size="10.4" fill="#e60012" text-anchor="middle" >红</text>
<text x="79.30" y="645.80" font-size="10.4" fill="#231815" text-anchor="middle" >黑</text>
<text x="92.80" y="645.80" font-size="10.4" fill="#b3d235" text-anchor="middle" >绿</text>
<text x="105.30" y="625.00" font-size="10.4" fill="#fff000" text-anchor="middle" >黄</text>
<text x="105.30" y="635.50" font-size="10.4" fill="#231815" text-anchor="middle" >或</text>
<text x="105.30" y="645.80" font-size="10.4" fill="#231815" text-anchor="middle" >白</text>
<text x="118.50" y="645.80" font-size="10.4" fill="#189fe1" text-anchor="middle" >蓝</text>
<rect x="55.80" y="648.80" width="83.70" height="23.20" fill="#dcdddd" rx="2.5" />
<text x="97.20" y="664.60" font-size="10.9" fill="#231815" text-anchor="middle" letter-spacing="-0.2" >1号门进门读卡器</text>
<text x="108.80" y="707.80" font-size="10.4" fill="#e60012" text-anchor="middle" >红</text>
<text x="123.00" y="707.80" font-size="10.4" fill="#231815" text-anchor="middle" >黑</text>
<text x="139.50" y="707.80" font-size="10.4" fill="#b3d235" text-anchor="middle" >绿</text>
<text x="156.00" y="686.00" font-size="10.4" fill="#fff000" text-anchor="middle" >黄</text>
<text x="156.00" y="696.60" font-size="10.4" fill="#231815" text-anchor="middle" >或</text>
<text x="156.00" y="707.30" font-size="10.4" fill="#231815" text-anchor="middle" >白</text>
<rect x="94.00" y="711.30" width="84.00" height="23.30" fill="#dcdddd" rx="2.5" />
<text x="135.80" y="727.10" font-size="10.9" fill="#231815" text-anchor="middle" letter-spacing="-0.2" >1号门出门读卡器</text>
<path d="M183.50 558.80 L183.50 627.00" fill="none" stroke="#e60012" stroke-width="1.35" />
<path d="M194.30 558.80 L194.30 627.00" fill="none" stroke="#231815" stroke-width="1.35" />
<rect x="177.00" y="627.00" width="26.00" height="25.50" fill="#fff" rx="1.2" stroke="#231815" stroke-width="1.2" />
<circle cx="189.9" cy="639.8" r="8.3" fill="#fff" stroke="#231815" stroke-width="2.3"/>
<circle cx="189.9" cy="639.8" r="5.7" fill="#fff" stroke="#c0c0c0" stroke-width="0.6"/>
<text font-size="9.2" fill="#231815" transform="translate(174 660.6) rotate(-90)"><tspan font-size="23">1</tspan><tspan x="14.2" dx="0" letter-spacing="0.35">号门出门开关</tspan></text>
<path d="M264.5 577 V568.3 H254.2 L270.5 561.8 L286.8 568.3 H276.5 V577 Z" fill="#dcdddd"/>
<path d="M316 577 V568.3 H305.7 L322 561.8 L338.3 568.3 H328 V577 Z" fill="#dcdddd"/>
<path d="M347 577 V568.3 H336.7 L353 561.8 L369.3 568.3 H359 V577 Z" fill="#dcdddd"/>
<rect x="219.50" y="575.00" width="187.30" height="24.50" fill="#dcdddd" rx="2.5" />
<text x="315.00" y="594.00" font-size="14.6" fill="#231815" text-anchor="middle" letter-spacing="1.8" >2号门接法同1号门一样</text>
<rect x="221.2" y="619.6" width="460.2" height="212.4" rx="22" fill="none" stroke="#2fade6" stroke-width="1.5" stroke-dasharray="0.1 2.93" stroke-linecap="round"/>
<rect x="237.00" y="649.00" width="419.80" height="72.50" fill="#d5e193" rx="2" stroke="#231815" stroke-width="1.3" />
<polygon points="256.37,705.44 252.64,709.17 247.36,709.17 243.63,705.44 243.63,700.16 247.36,696.43 252.64,696.43 256.37,700.16" fill="#fdfdff" stroke="#c9ccc0" stroke-width="0.7" stroke-linejoin="round"/>
<circle cx="250" cy="702.8" r="4.3" fill="#fff" stroke="#b7b7bc" stroke-width="1.1"/>
<polygon points="648.37,705.84 644.64,709.57 639.36,709.57 635.63,705.84 635.63,700.56 639.36,696.83 644.64,696.83 648.37,700.56" fill="#fdfdff" stroke="#c9ccc0" stroke-width="0.7" stroke-linejoin="round"/>
<circle cx="642" cy="703.2" r="4.3" fill="#fff" stroke="#b7b7bc" stroke-width="1.1"/>
<rect x="248.80" y="661.50" width="37.00" height="16.80" fill="#231815" rx="1" />
<circle cx="253.00" cy="666" r="1.6" fill="#fff"/>
<circle cx="253.00" cy="673.6" r="1.6" fill="#fff"/>
<circle cx="260.25" cy="666" r="1.6" fill="#fff"/>
<circle cx="260.25" cy="673.6" r="1.6" fill="#fff"/>
<circle cx="267.50" cy="666" r="1.6" fill="#fff"/>
<circle cx="267.50" cy="673.6" r="1.6" fill="#fff"/>
<circle cx="274.75" cy="666" r="1.6" fill="#fff"/>
<circle cx="274.75" cy="673.6" r="1.6" fill="#fff"/>
<circle cx="282.00" cy="666" r="1.6" fill="#fff"/>
<circle cx="282.00" cy="673.6" r="1.6" fill="#fff"/>
<path d="M262.5 727 V690.3 H255 L266.9 681 L278.8 690.3 H271.3 V727 Z" fill="#b5b5b6" stroke="#f2f2f2" stroke-width="0.9"/>
<circle cx="290" cy="694" r="11.7" fill="#fff" stroke="#231815" stroke-width="2.6"/>
<text x="290.00" y="711.40" font-size="6" fill="#231815" text-anchor="middle" font-weight="bold" >+</text>
<circle cx="309.3" cy="664.8" r="4.2" fill="#e60012" stroke="#6b1a1c" stroke-width="0.9"/>
<rect x="237.00" y="733.50" width="66.80" height="38.80" fill="#efefef" rx="3" />
<text x="270.50" y="751.00" font-size="9.2" fill="#231815" text-anchor="middle" letter-spacing="0" >连接门禁主板</text>
<text x="270.50" y="762.40" font-size="9.2" fill="#231815" text-anchor="middle" letter-spacing="0" >报警板扩展口</text>
<path d="M255.00 794.00 L309.50 794.00 L309.50 686.00" fill="none" stroke="#231815" stroke-width="0.8" />
<circle cx="255" cy="794" r="1.4" fill="#231815"/>
<path d="M0 0 L-9 -3.7 L-6.3 0 L-9 3.7 Z" fill="#231815" transform="translate(309.50 678.60) rotate(-90)"/>
<text x="276.20" y="806.20" font-size="9.3" fill="#231815" text-anchor="middle" letter-spacing="0" >电源指示灯</text>
<rect x="354.80" y="653.80" width="43.60" height="32.10" fill="#5c5859" rx="1.5" stroke="#231815" stroke-width="1.1" />
<circle cx="342.50" cy="678" r="4.6" fill="#ffea00" stroke="#231815" stroke-width="1.1"/>
<rect x="351.20" y="689.00" width="19.20" height="6.40" fill="#fff" stroke="#231815" stroke-width="0.9" />
<text x="360.80" y="694.00" font-size="4.4" fill="#3e3a39" text-anchor="middle" textLength="15.4" lengthAdjust="spacingAndGlyphs">GAS IN</text>
<rect x="351.20" y="695.40" width="19.20" height="9.20" fill="#efefef" stroke="#231815" stroke-width="0.9" />
<rect x="352.10" y="696.30" width="7.80" height="7.40" fill="#f9f9f9" />
<text x="356.00" y="703.30" font-size="9.5" fill="#231815" text-anchor="middle" >+</text>
<rect x="361.70" y="696.30" width="7.80" height="7.40" fill="#f9f9f9" />
<path d="M360.80 695.4 V704.6" stroke="#231815" stroke-width="0.9"/>
<text x="365.60" y="703.30" font-size="9.5" fill="#231815" text-anchor="middle" >-</text>
<rect x="351.20" y="704.60" width="19.20" height="17.00" fill="#6cba64" stroke="#231815" stroke-width="0.9" />
<rect x="351.00" y="721.00" width="19.60" height="2.20" fill="#3e3a39" />
<rect x="350.80" y="722.80" width="20.00" height="15.80" fill="#69b962" rx="1.2" stroke="#231815" stroke-width="1" />
<path d="M351.30 736 H370.30" stroke="#3f8f3d" stroke-width="0.7"/>
<circle cx="356.30" cy="730.80" r="2.7" fill="#fff" stroke="#231815" stroke-width="1.15"/>
<path d="M354.14 732.31 L358.46 729.29" stroke="#231815" stroke-width="1.4"/>
<circle cx="365.00" cy="730.80" r="2.7" fill="#fff" stroke="#231815" stroke-width="1.15"/>
<path d="M362.84 732.31 L367.16 729.29" stroke="#231815" stroke-width="1.4"/>
<rect x="372.90" y="689.00" width="29.20" height="6.40" fill="#fff" stroke="#231815" stroke-width="0.9" />
<text x="387.50" y="694.00" font-size="4.4" fill="#3e3a39" text-anchor="middle" textLength="25.4" lengthAdjust="spacingAndGlyphs">GAS OUTPUT</text>
<rect x="372.90" y="695.40" width="29.20" height="9.20" fill="#efefef" stroke="#231815" stroke-width="0.9" />
<rect x="373.80" y="696.30" width="7.93" height="7.40" fill="#f9f9f9" />
<text x="377.77" y="701.60" font-size="4" fill="#3e3a39" text-anchor="middle" >NO</text>
<rect x="383.53" y="696.30" width="7.93" height="7.40" fill="#f9f9f9" />
<path d="M382.63 695.4 V704.6" stroke="#231815" stroke-width="0.9"/>
<text x="387.50" y="701.60" font-size="4" fill="#3e3a39" text-anchor="middle" >COM</text>
<rect x="393.27" y="696.30" width="7.93" height="7.40" fill="#f9f9f9" />
<path d="M392.37 695.4 V704.6" stroke="#231815" stroke-width="0.9"/>
<text x="397.23" y="701.60" font-size="4" fill="#3e3a39" text-anchor="middle" >NC</text>
<rect x="372.90" y="704.60" width="29.20" height="17.00" fill="#6cba64" stroke="#231815" stroke-width="0.9" />
<rect x="372.70" y="721.00" width="29.60" height="2.20" fill="#3e3a39" />
<rect x="372.50" y="722.80" width="30.00" height="15.80" fill="#69b962" rx="1.2" stroke="#231815" stroke-width="1" />
<path d="M373.00 736 H402.00" stroke="#3f8f3d" stroke-width="0.7"/>
<circle cx="378.00" cy="730.80" r="2.7" fill="#fff" stroke="#231815" stroke-width="1.15"/>
<path d="M375.84 732.31 L380.16 729.29" stroke="#231815" stroke-width="1.4"/>
<circle cx="387.50" cy="730.80" r="2.7" fill="#fff" stroke="#231815" stroke-width="1.15"/>
<path d="M385.34 732.31 L389.66 729.29" stroke="#231815" stroke-width="1.4"/>
<circle cx="396.80" cy="730.80" r="2.7" fill="#fff" stroke="#231815" stroke-width="1.15"/>
<path d="M394.64 732.31 L398.96 729.29" stroke="#231815" stroke-width="1.4"/>
<text x="343.30" y="635.90" font-size="10.3" fill="#231815" text-anchor="middle" >烟感报警指示灯</text>
<path d="M353.30 642.00 L347.00 660.00" fill="none" stroke="#231815" stroke-width="0.9" />
<rect x="351.60" y="640.30" width="3.4" height="3.4" fill="#231815" transform="rotate(19 353.30 642.00)"/>
<path d="M0 0 L-10 -3.8 L-7.0 0 L-10 3.8 Z" fill="#231815" transform="translate(345.00 666.00) rotate(109)"/>
<path d="M356.30 738.60 L356.30 748.00" fill="none" stroke="#595757" stroke-width="0.9" />
<path d="M365.00 738.60 L365.00 748.00" fill="none" stroke="#595757" stroke-width="0.9" />
<rect x="353.80" y="747.80" width="14.20" height="47.40" fill="#fff" rx="1.5" stroke="#b5b5b6" stroke-width="0.9" />
<text x="359.80" y="749.87" font-size="10.6" fill="#231815" letter-spacing="0.40" style="writing-mode:vertical-rl;text-orientation:upright">报警输入</text>
<path d="M378.00 743.00 L378.00 788.00" fill="none" stroke="#189fe1" stroke-width="1.3" />
<rect x="376.80" y="742.00" width="2.40" height="2.40" fill="#189fe1" />
<path d="M0 0 L-9.5 -3.7 L-6.6499999999999995 0 L-9.5 3.7 Z" fill="#189fe1" transform="translate(378.00 794.80) rotate(90)"/>
<path d="M387.50 749.00 L387.50 763.00" fill="none" stroke="#e60012" stroke-width="1.3" />
<rect x="386.10" y="761.80" width="2.80" height="2.80" fill="#e60012" />
<path d="M0 0 L-9.5 -3.7 L-6.6499999999999995 0 L-9.5 3.7 Z" fill="#e60012" transform="translate(387.50 742.00) rotate(-90)"/>
<text x="392.30" y="777.00" font-size="8.2" fill="#e60012" text-anchor="middle" letter-spacing="0.5" >12V</text>
<text x="392.30" y="785.30" font-size="8.2" fill="#e60012" text-anchor="middle" letter-spacing="0.2" >接入</text>
<text x="387.50" y="795.30" font-size="10" fill="#e60012" text-anchor="middle" font-weight="bold" >+</text>
<text x="337.20" y="805.20" font-size="8.8" fill="#231815" text-anchor="middle" letter-spacing="0" >GND接入</text>
<path d="M342.00 812.00 L350.00 812.00" fill="none" stroke="#231815" stroke-width="1.3" />
<circle cx="342.00" cy="812" r="1.5" fill="#231815"/>
<path d="M0 0 L-6.5 -2.75 L-4.55 0 L-6.5 2.75 Z" fill="#231815" transform="translate(354.50 812.00) rotate(0)"/>
<rect x="361.80" y="799.00" width="33.40" height="27.00" fill="#efefef" />
<text x="378.80" y="810.10" font-size="9.5" fill="#e60012" text-anchor="middle" letter-spacing="0.6" >烟感</text>
<text x="378.80" y="822.50" font-size="9.5" fill="#e60012" text-anchor="middle" letter-spacing="0.6" >报警器</text>
<rect x="428.30" y="653.80" width="43.60" height="32.10" fill="#5c5859" rx="1.5" stroke="#231815" stroke-width="1.1" />
<circle cx="416.00" cy="678" r="4.6" fill="#ffea00" stroke="#231815" stroke-width="1.1"/>
<rect x="424.70" y="689.00" width="19.20" height="6.40" fill="#fff" stroke="#231815" stroke-width="0.9" />
<text x="434.30" y="694.00" font-size="4.4" fill="#3e3a39" text-anchor="middle" textLength="15.4" lengthAdjust="spacingAndGlyphs">PROBE IN</text>
<rect x="424.70" y="695.40" width="19.20" height="9.20" fill="#efefef" stroke="#231815" stroke-width="0.9" />
<rect x="425.60" y="696.30" width="7.80" height="7.40" fill="#f9f9f9" />
<text x="429.50" y="703.30" font-size="9.5" fill="#231815" text-anchor="middle" >+</text>
<rect x="435.20" y="696.30" width="7.80" height="7.40" fill="#f9f9f9" />
<path d="M434.30 695.4 V704.6" stroke="#231815" stroke-width="0.9"/>
<text x="439.10" y="703.30" font-size="9.5" fill="#231815" text-anchor="middle" >-</text>
<rect x="424.70" y="704.60" width="19.20" height="17.00" fill="#6cba64" stroke="#231815" stroke-width="0.9" />
<rect x="424.50" y="721.00" width="19.60" height="2.20" fill="#3e3a39" />
<rect x="424.30" y="722.80" width="20.00" height="15.80" fill="#69b962" rx="1.2" stroke="#231815" stroke-width="1" />
<path d="M424.80 736 H443.80" stroke="#3f8f3d" stroke-width="0.7"/>
<circle cx="429.80" cy="730.80" r="2.7" fill="#fff" stroke="#231815" stroke-width="1.15"/>
<path d="M427.64 732.31 L431.96 729.29" stroke="#231815" stroke-width="1.4"/>
<circle cx="438.50" cy="730.80" r="2.7" fill="#fff" stroke="#231815" stroke-width="1.15"/>
<path d="M436.34 732.31 L440.66 729.29" stroke="#231815" stroke-width="1.4"/>
<rect x="446.40" y="689.00" width="29.20" height="6.40" fill="#fff" stroke="#231815" stroke-width="0.9" />
<text x="461.00" y="694.00" font-size="4.4" fill="#3e3a39" text-anchor="middle" textLength="25.4" lengthAdjust="spacingAndGlyphs">PROBE OUTPUT</text>
<rect x="446.40" y="695.40" width="29.20" height="9.20" fill="#efefef" stroke="#231815" stroke-width="0.9" />
<rect x="447.30" y="696.30" width="7.93" height="7.40" fill="#f9f9f9" />
<text x="451.27" y="701.60" font-size="4" fill="#3e3a39" text-anchor="middle" >NO</text>
<rect x="457.03" y="696.30" width="7.93" height="7.40" fill="#f9f9f9" />
<path d="M456.13 695.4 V704.6" stroke="#231815" stroke-width="0.9"/>
<text x="461.00" y="701.60" font-size="4" fill="#3e3a39" text-anchor="middle" >COM</text>
<rect x="466.77" y="696.30" width="7.93" height="7.40" fill="#f9f9f9" />
<path d="M465.87 695.4 V704.6" stroke="#231815" stroke-width="0.9"/>
<text x="470.73" y="701.60" font-size="4" fill="#3e3a39" text-anchor="middle" >NC</text>
<rect x="446.40" y="704.60" width="29.20" height="17.00" fill="#6cba64" stroke="#231815" stroke-width="0.9" />
<rect x="446.20" y="721.00" width="29.60" height="2.20" fill="#3e3a39" />
<rect x="446.00" y="722.80" width="30.00" height="15.80" fill="#69b962" rx="1.2" stroke="#231815" stroke-width="1" />
<path d="M446.50 736 H475.50" stroke="#3f8f3d" stroke-width="0.7"/>
<circle cx="451.50" cy="730.80" r="2.7" fill="#fff" stroke="#231815" stroke-width="1.15"/>
<path d="M449.34 732.31 L453.66 729.29" stroke="#231815" stroke-width="1.4"/>
<circle cx="461.00" cy="730.80" r="2.7" fill="#fff" stroke="#231815" stroke-width="1.15"/>
<path d="M458.84 732.31 L463.16 729.29" stroke="#231815" stroke-width="1.4"/>
<circle cx="470.30" cy="730.80" r="2.7" fill="#fff" stroke="#231815" stroke-width="1.15"/>
<path d="M468.14 732.31 L472.46 729.29" stroke="#231815" stroke-width="1.4"/>
<text x="428.80" y="635.90" font-size="10.3" fill="#231815" text-anchor="middle" >防盗报警指示灯</text>
<path d="M426.80 642.00 L420.50 660.00" fill="none" stroke="#231815" stroke-width="0.9" />
<rect x="425.10" y="640.30" width="3.4" height="3.4" fill="#231815" transform="rotate(19 426.80 642.00)"/>
<path d="M0 0 L-10 -3.8 L-7.0 0 L-10 3.8 Z" fill="#231815" transform="translate(418.50 666.00) rotate(109)"/>
<path d="M429.80 738.60 L429.80 748.00" fill="none" stroke="#595757" stroke-width="0.9" />
<path d="M438.50 738.60 L438.50 748.00" fill="none" stroke="#595757" stroke-width="0.9" />
<rect x="427.30" y="747.80" width="14.20" height="47.40" fill="#fff" rx="1.5" stroke="#b5b5b6" stroke-width="0.9" />
<text x="433.30" y="749.87" font-size="10.6" fill="#231815" letter-spacing="0.40" style="writing-mode:vertical-rl;text-orientation:upright">报警输入</text>
<path d="M451.50 743.00 L451.50 788.00" fill="none" stroke="#189fe1" stroke-width="1.3" />
<rect x="450.30" y="742.00" width="2.40" height="2.40" fill="#189fe1" />
<path d="M0 0 L-9.5 -3.7 L-6.6499999999999995 0 L-9.5 3.7 Z" fill="#189fe1" transform="translate(451.50 794.80) rotate(90)"/>
<path d="M461.00 749.00 L461.00 763.00" fill="none" stroke="#e60012" stroke-width="1.3" />
<rect x="459.60" y="761.80" width="2.80" height="2.80" fill="#e60012" />
<path d="M0 0 L-9.5 -3.7 L-6.6499999999999995 0 L-9.5 3.7 Z" fill="#e60012" transform="translate(461.00 742.00) rotate(-90)"/>
<text x="465.80" y="777.00" font-size="8.2" fill="#e60012" text-anchor="middle" letter-spacing="0.5" >12V</text>
<text x="465.80" y="785.30" font-size="8.2" fill="#e60012" text-anchor="middle" letter-spacing="0.2" >接入</text>
<text x="461.00" y="795.30" font-size="10" fill="#e60012" text-anchor="middle" font-weight="bold" >+</text>
<text x="416.70" y="805.20" font-size="8.8" fill="#231815" text-anchor="middle" letter-spacing="0" >GND接入</text>
<path d="M415.50 812.00 L423.50 812.00" fill="none" stroke="#231815" stroke-width="1.3" />
<circle cx="415.50" cy="812" r="1.5" fill="#231815"/>
<path d="M0 0 L-6.5 -2.75 L-4.55 0 L-6.5 2.75 Z" fill="#231815" transform="translate(428.00 812.00) rotate(0)"/>
<rect x="435.30" y="799.00" width="33.40" height="27.00" fill="#efefef" />
<text x="452.30" y="810.10" font-size="9.5" fill="#e60012" text-anchor="middle" letter-spacing="0.6" >防盗</text>
<text x="452.30" y="822.50" font-size="9.5" fill="#e60012" text-anchor="middle" letter-spacing="0.6" >报警器</text>
<rect x="501.80" y="653.80" width="43.60" height="32.10" fill="#5c5859" rx="1.5" stroke="#231815" stroke-width="1.1" />
<circle cx="489.50" cy="678" r="4.6" fill="#ffea00" stroke="#231815" stroke-width="1.1"/>
<rect x="498.20" y="689.00" width="19.20" height="6.40" fill="#fff" stroke="#231815" stroke-width="0.9" />
<text x="507.80" y="694.00" font-size="4.4" fill="#3e3a39" text-anchor="middle" textLength="15.4" lengthAdjust="spacingAndGlyphs">ALARM IN</text>
<rect x="498.20" y="695.40" width="19.20" height="9.20" fill="#efefef" stroke="#231815" stroke-width="0.9" />
<rect x="499.10" y="696.30" width="7.80" height="7.40" fill="#f9f9f9" />
<text x="503.00" y="703.30" font-size="9.5" fill="#231815" text-anchor="middle" >+</text>
<rect x="508.70" y="696.30" width="7.80" height="7.40" fill="#f9f9f9" />
<path d="M507.80 695.4 V704.6" stroke="#231815" stroke-width="0.9"/>
<text x="512.60" y="703.30" font-size="9.5" fill="#231815" text-anchor="middle" >-</text>
<rect x="498.20" y="704.60" width="19.20" height="17.00" fill="#6cba64" stroke="#231815" stroke-width="0.9" />
<rect x="498.00" y="721.00" width="19.60" height="2.20" fill="#3e3a39" />
<rect x="497.80" y="722.80" width="20.00" height="15.80" fill="#69b962" rx="1.2" stroke="#231815" stroke-width="1" />
<path d="M498.30 736 H517.30" stroke="#3f8f3d" stroke-width="0.7"/>
<circle cx="503.30" cy="730.80" r="2.7" fill="#fff" stroke="#231815" stroke-width="1.15"/>
<path d="M501.14 732.31 L505.46 729.29" stroke="#231815" stroke-width="1.4"/>
<circle cx="512.00" cy="730.80" r="2.7" fill="#fff" stroke="#231815" stroke-width="1.15"/>
<path d="M509.84 732.31 L514.16 729.29" stroke="#231815" stroke-width="1.4"/>
<rect x="519.90" y="689.00" width="29.20" height="6.40" fill="#fff" stroke="#231815" stroke-width="0.9" />
<text x="534.50" y="694.00" font-size="4.4" fill="#3e3a39" text-anchor="middle" textLength="25.4" lengthAdjust="spacingAndGlyphs">ALARM OUTPUT</text>
<rect x="519.90" y="695.40" width="29.20" height="9.20" fill="#efefef" stroke="#231815" stroke-width="0.9" />
<rect x="520.80" y="696.30" width="7.93" height="7.40" fill="#f9f9f9" />
<text x="524.77" y="701.60" font-size="4" fill="#3e3a39" text-anchor="middle" >NO</text>
<rect x="530.53" y="696.30" width="7.93" height="7.40" fill="#f9f9f9" />
<path d="M529.63 695.4 V704.6" stroke="#231815" stroke-width="0.9"/>
<text x="534.50" y="701.60" font-size="4" fill="#3e3a39" text-anchor="middle" >COM</text>
<rect x="540.27" y="696.30" width="7.93" height="7.40" fill="#f9f9f9" />
<path d="M539.37 695.4 V704.6" stroke="#231815" stroke-width="0.9"/>
<text x="544.23" y="701.60" font-size="4" fill="#3e3a39" text-anchor="middle" >NC</text>
<rect x="519.90" y="704.60" width="29.20" height="17.00" fill="#6cba64" stroke="#231815" stroke-width="0.9" />
<rect x="519.70" y="721.00" width="29.60" height="2.20" fill="#3e3a39" />
<rect x="519.50" y="722.80" width="30.00" height="15.80" fill="#69b962" rx="1.2" stroke="#231815" stroke-width="1" />
<path d="M520.00 736 H549.00" stroke="#3f8f3d" stroke-width="0.7"/>
<circle cx="525.00" cy="730.80" r="2.7" fill="#fff" stroke="#231815" stroke-width="1.15"/>
<path d="M522.84 732.31 L527.16 729.29" stroke="#231815" stroke-width="1.4"/>
<circle cx="534.50" cy="730.80" r="2.7" fill="#fff" stroke="#231815" stroke-width="1.15"/>
<path d="M532.34 732.31 L536.66 729.29" stroke="#231815" stroke-width="1.4"/>
<circle cx="543.80" cy="730.80" r="2.7" fill="#fff" stroke="#231815" stroke-width="1.15"/>
<path d="M541.64 732.31 L545.96 729.29" stroke="#231815" stroke-width="1.4"/>
<text x="511.00" y="635.90" font-size="10.3" fill="#231815" text-anchor="middle" >匪警报警指示灯</text>
<path d="M500.30 642.00 L494.00 660.00" fill="none" stroke="#231815" stroke-width="0.9" />
<rect x="498.60" y="640.30" width="3.4" height="3.4" fill="#231815" transform="rotate(19 500.30 642.00)"/>
<path d="M0 0 L-10 -3.8 L-7.0 0 L-10 3.8 Z" fill="#231815" transform="translate(492.00 666.00) rotate(109)"/>
<path d="M503.30 738.60 L503.30 748.00" fill="none" stroke="#595757" stroke-width="0.9" />
<path d="M512.00 738.60 L512.00 748.00" fill="none" stroke="#595757" stroke-width="0.9" />
<rect x="500.80" y="747.80" width="14.20" height="47.40" fill="#fff" rx="1.5" stroke="#b5b5b6" stroke-width="0.9" />
<text x="506.80" y="749.87" font-size="10.6" fill="#231815" letter-spacing="0.40" style="writing-mode:vertical-rl;text-orientation:upright">报警输入</text>
<path d="M525.00 743.00 L525.00 788.00" fill="none" stroke="#189fe1" stroke-width="1.3" />
<rect x="523.80" y="742.00" width="2.40" height="2.40" fill="#189fe1" />
<path d="M0 0 L-9.5 -3.7 L-6.6499999999999995 0 L-9.5 3.7 Z" fill="#189fe1" transform="translate(525.00 794.80) rotate(90)"/>
<path d="M534.50 749.00 L534.50 763.00" fill="none" stroke="#e60012" stroke-width="1.3" />
<rect x="533.10" y="761.80" width="2.80" height="2.80" fill="#e60012" />
<path d="M0 0 L-9.5 -3.7 L-6.6499999999999995 0 L-9.5 3.7 Z" fill="#e60012" transform="translate(534.50 742.00) rotate(-90)"/>
<text x="539.30" y="777.00" font-size="8.2" fill="#e60012" text-anchor="middle" letter-spacing="0.5" >12V</text>
<text x="539.30" y="785.30" font-size="8.2" fill="#e60012" text-anchor="middle" letter-spacing="0.2" >接入</text>
<text x="534.50" y="795.30" font-size="10" fill="#e60012" text-anchor="middle" font-weight="bold" >+</text>
<text x="489.70" y="805.20" font-size="8.8" fill="#231815" text-anchor="middle" letter-spacing="0" >GND接入</text>
<path d="M488.80 812.00 L496.80 812.00" fill="none" stroke="#231815" stroke-width="1.3" />
<circle cx="488.80" cy="812" r="1.5" fill="#231815"/>
<path d="M0 0 L-6.5 -2.75 L-4.55 0 L-6.5 2.75 Z" fill="#231815" transform="translate(501.30 812.00) rotate(0)"/>
<rect x="508.80" y="799.00" width="33.40" height="27.00" fill="#efefef" />
<text x="525.80" y="810.10" font-size="9.5" fill="#e60012" text-anchor="middle" letter-spacing="0.6" >报警</text>
<text x="525.80" y="822.50" font-size="9.5" fill="#e60012" text-anchor="middle" letter-spacing="0.6" >喇叭</text>
<rect x="575.30" y="653.80" width="43.60" height="32.10" fill="#5c5859" rx="1.5" stroke="#231815" stroke-width="1.1" />
<circle cx="563.00" cy="678" r="4.6" fill="#ffea00" stroke="#231815" stroke-width="1.1"/>
<rect x="571.70" y="689.00" width="19.20" height="6.40" fill="#fff" stroke="#231815" stroke-width="0.9" />
<text x="581.30" y="694.00" font-size="4.4" fill="#3e3a39" text-anchor="middle" textLength="15.4" lengthAdjust="spacingAndGlyphs">FIRE IN</text>
<rect x="571.70" y="695.40" width="19.20" height="9.20" fill="#efefef" stroke="#231815" stroke-width="0.9" />
<rect x="572.60" y="696.30" width="7.80" height="7.40" fill="#f9f9f9" />
<text x="576.50" y="703.30" font-size="9.5" fill="#231815" text-anchor="middle" >+</text>
<rect x="582.20" y="696.30" width="7.80" height="7.40" fill="#f9f9f9" />
<path d="M581.30 695.4 V704.6" stroke="#231815" stroke-width="0.9"/>
<text x="586.10" y="703.30" font-size="9.5" fill="#231815" text-anchor="middle" >-</text>
<rect x="571.70" y="704.60" width="19.20" height="17.00" fill="#6cba64" stroke="#231815" stroke-width="0.9" />
<rect x="571.50" y="721.00" width="19.60" height="2.20" fill="#3e3a39" />
<rect x="571.30" y="722.80" width="20.00" height="15.80" fill="#69b962" rx="1.2" stroke="#231815" stroke-width="1" />
<path d="M571.80 736 H590.80" stroke="#3f8f3d" stroke-width="0.7"/>
<circle cx="576.80" cy="730.80" r="2.7" fill="#fff" stroke="#231815" stroke-width="1.15"/>
<path d="M574.64 732.31 L578.96 729.29" stroke="#231815" stroke-width="1.4"/>
<circle cx="585.50" cy="730.80" r="2.7" fill="#fff" stroke="#231815" stroke-width="1.15"/>
<path d="M583.34 732.31 L587.66 729.29" stroke="#231815" stroke-width="1.4"/>
<rect x="593.40" y="689.00" width="29.20" height="6.40" fill="#fff" stroke="#231815" stroke-width="0.9" />
<text x="608.00" y="694.00" font-size="4.4" fill="#3e3a39" text-anchor="middle" textLength="25.4" lengthAdjust="spacingAndGlyphs">FIRE OUTPUT</text>
<rect x="593.40" y="695.40" width="29.20" height="9.20" fill="#efefef" stroke="#231815" stroke-width="0.9" />
<rect x="594.30" y="696.30" width="7.93" height="7.40" fill="#f9f9f9" />
<text x="598.27" y="701.60" font-size="4" fill="#3e3a39" text-anchor="middle" >NO</text>
<rect x="604.03" y="696.30" width="7.93" height="7.40" fill="#f9f9f9" />
<path d="M603.13 695.4 V704.6" stroke="#231815" stroke-width="0.9"/>
<text x="608.00" y="701.60" font-size="4" fill="#3e3a39" text-anchor="middle" >COM</text>
<rect x="613.77" y="696.30" width="7.93" height="7.40" fill="#f9f9f9" />
<path d="M612.87 695.4 V704.6" stroke="#231815" stroke-width="0.9"/>
<text x="617.73" y="701.60" font-size="4" fill="#3e3a39" text-anchor="middle" >NC</text>
<rect x="593.40" y="704.60" width="29.20" height="17.00" fill="#6cba64" stroke="#231815" stroke-width="0.9" />
<rect x="593.20" y="721.00" width="29.60" height="2.20" fill="#3e3a39" />
<rect x="593.00" y="722.80" width="30.00" height="15.80" fill="#69b962" rx="1.2" stroke="#231815" stroke-width="1" />
<path d="M593.50 736 H622.50" stroke="#3f8f3d" stroke-width="0.7"/>
<circle cx="598.50" cy="730.80" r="2.7" fill="#fff" stroke="#231815" stroke-width="1.15"/>
<path d="M596.34 732.31 L600.66 729.29" stroke="#231815" stroke-width="1.4"/>
<circle cx="608.00" cy="730.80" r="2.7" fill="#fff" stroke="#231815" stroke-width="1.15"/>
<path d="M605.84 732.31 L610.16 729.29" stroke="#231815" stroke-width="1.4"/>
<circle cx="617.30" cy="730.80" r="2.7" fill="#fff" stroke="#231815" stroke-width="1.15"/>
<path d="M615.14 732.31 L619.46 729.29" stroke="#231815" stroke-width="1.4"/>
<text x="597.50" y="635.90" font-size="10.3" fill="#231815" text-anchor="middle" >消防报警指示灯</text>
<path d="M573.80 642.00 L567.50 660.00" fill="none" stroke="#231815" stroke-width="0.9" />
<rect x="572.10" y="640.30" width="3.4" height="3.4" fill="#231815" transform="rotate(19 573.80 642.00)"/>
<path d="M0 0 L-10 -3.8 L-7.0 0 L-10 3.8 Z" fill="#231815" transform="translate(565.50 666.00) rotate(109)"/>
<path d="M576.80 738.60 L576.80 748.00" fill="none" stroke="#595757" stroke-width="0.9" />
<path d="M585.50 738.60 L585.50 748.00" fill="none" stroke="#595757" stroke-width="0.9" />
<rect x="574.30" y="747.80" width="14.20" height="47.40" fill="#fff" rx="1.5" stroke="#b5b5b6" stroke-width="0.9" />
<text x="580.30" y="749.87" font-size="10.6" fill="#231815" letter-spacing="0.40" style="writing-mode:vertical-rl;text-orientation:upright">报警输入</text>
<path d="M598.50 743.00 L598.50 788.00" fill="none" stroke="#189fe1" stroke-width="1.3" />
<rect x="597.30" y="742.00" width="2.40" height="2.40" fill="#189fe1" />
<path d="M0 0 L-9.5 -3.7 L-6.6499999999999995 0 L-9.5 3.7 Z" fill="#189fe1" transform="translate(598.50 794.80) rotate(90)"/>
<path d="M608.00 749.00 L608.00 763.00" fill="none" stroke="#e60012" stroke-width="1.3" />
<rect x="606.60" y="761.80" width="2.80" height="2.80" fill="#e60012" />
<path d="M0 0 L-9.5 -3.7 L-6.6499999999999995 0 L-9.5 3.7 Z" fill="#e60012" transform="translate(608.00 742.00) rotate(-90)"/>
<text x="612.80" y="777.00" font-size="8.2" fill="#e60012" text-anchor="middle" letter-spacing="0.5" >12V</text>
<text x="612.80" y="785.30" font-size="8.2" fill="#e60012" text-anchor="middle" letter-spacing="0.2" >接入</text>
<text x="608.00" y="795.30" font-size="10" fill="#e60012" text-anchor="middle" font-weight="bold" >+</text>
<text x="562.70" y="805.20" font-size="8.8" fill="#231815" text-anchor="middle" letter-spacing="0" >GND接入</text>
<path d="M562.50 812.00 L570.50 812.00" fill="none" stroke="#231815" stroke-width="1.3" />
<circle cx="562.50" cy="812" r="1.5" fill="#231815"/>
<path d="M0 0 L-6.5 -2.75 L-4.55 0 L-6.5 2.75 Z" fill="#231815" transform="translate(575.00 812.00) rotate(0)"/>
<rect x="582.30" y="799.00" width="33.40" height="27.00" fill="#efefef" />
<text x="599.30" y="810.10" font-size="9.5" fill="#e60012" text-anchor="middle" letter-spacing="0.6" >消防</text>
<text x="599.30" y="822.50" font-size="9.5" fill="#e60012" text-anchor="middle" letter-spacing="0.6" >警铃</text>
</svg></body></html>
